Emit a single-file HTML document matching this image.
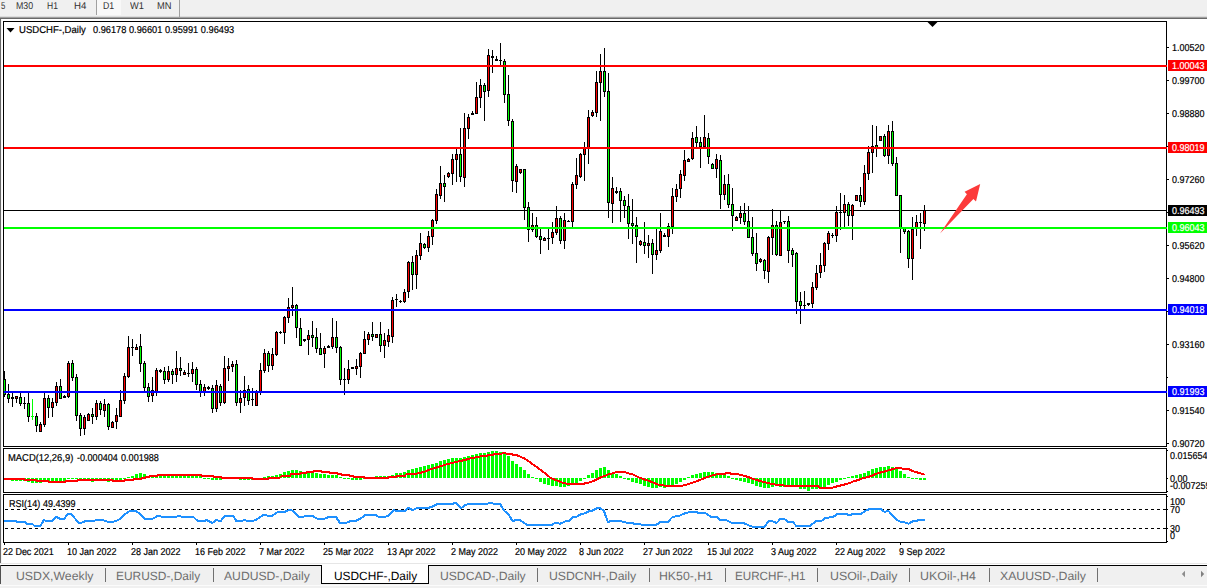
<!DOCTYPE html><html><head><meta charset="utf-8"><title>USDCHF-,Daily</title><style>
html,body{margin:0;padding:0;background:#fff}
body{width:1207px;height:588px;overflow:hidden;position:relative;font-family:"Liberation Sans",sans-serif}
#g{position:absolute;left:0;top:0}
.t{text-rendering:geometricPrecision;position:absolute;white-space:nowrap;line-height:1;transform-origin:0 0;color:#000}
.s{font-size:10px;-webkit-text-stroke-width:0.2px}
.tb{font-size:10px;color:#303030}
.tab{font-size:12px;color:#6e6e6e}
.lab{position:absolute;left:1168px;width:39px;height:11px}

</style></head><body>
<svg id="g" width="1207" height="588" viewBox="0 0 1207 588" shape-rendering="crispEdges">
<rect x="0" y="0" width="1207" height="17" fill="#f0f0f0"/>
<rect x="0" y="16" width="1207" height="1" fill="#dcdcdc"/>
<rect x="0" y="17" width="1207" height="1" fill="#a0a0a0"/>
<rect x="0" y="18" width="1207" height="1" fill="#696969"/>
<rect x="97" y="0" width="24" height="15" fill="#f8f8f8"/>
<rect x="96" y="0" width="1" height="15" fill="#a0a0a0"/>
<rect x="179" y="0" width="1" height="17" fill="#a0a0a0"/>
<rect x="0" y="19" width="1" height="544" fill="#696969"/>
<rect x="1" y="19" width="1" height="544" fill="#f4f4f4"/>
<rect x="3" y="21" width="1164" height="1" fill="#000"/>
<rect x="3" y="446" width="1164" height="1" fill="#000"/>
<rect x="3" y="21" width="1" height="426" fill="#000"/>
<rect x="1166" y="21" width="1" height="426" fill="#000"/>
<rect x="3" y="448" width="1164" height="1" fill="#000"/>
<rect x="3" y="492" width="1164" height="1" fill="#000"/>
<rect x="3" y="448" width="1" height="45" fill="#000"/>
<rect x="1166" y="448" width="1" height="45" fill="#000"/>
<rect x="3" y="494" width="1164" height="1" fill="#000"/>
<rect x="3" y="542" width="1164" height="1" fill="#000"/>
<rect x="3" y="494" width="1" height="49" fill="#000"/>
<rect x="1166" y="494" width="1" height="49" fill="#000"/>
<rect x="1167" y="47" width="2" height="1" fill="#000"/>
<rect x="1167" y="80" width="2" height="1" fill="#000"/>
<rect x="1167" y="113" width="2" height="1" fill="#000"/>
<rect x="1167" y="179" width="2" height="1" fill="#000"/>
<rect x="1167" y="245" width="2" height="1" fill="#000"/>
<rect x="1167" y="278" width="2" height="1" fill="#000"/>
<rect x="1167" y="344" width="2" height="1" fill="#000"/>
<rect x="1167" y="410" width="2" height="1" fill="#000"/>
<rect x="1167" y="443" width="2" height="1" fill="#000"/>
<rect x="1167" y="146" width="1" height="1" fill="#000"/>
<rect x="1167" y="212" width="1" height="1" fill="#000"/>
<rect x="1167" y="311" width="1" height="1" fill="#000"/>
<rect x="1167" y="377" width="1" height="1" fill="#000"/>
<rect x="1167" y="450" width="1" height="1" fill="#000"/>
<rect x="1167" y="478" width="1" height="1" fill="#000"/>
<rect x="1167" y="491" width="1" height="1" fill="#000"/>
<rect x="1167" y="496" width="1" height="1" fill="#000"/>
<rect x="1167" y="509" width="1" height="1" fill="#000"/>
<rect x="1167" y="528" width="1" height="1" fill="#000"/>
<rect x="1167" y="541" width="1" height="1" fill="#000"/>
<rect x="1168" y="60" width="39" height="11" fill="#ff0000"/>
<rect x="1168" y="142" width="39" height="11" fill="#ff0000"/>
<rect x="1168" y="205" width="39" height="11" fill="#000"/>
<rect x="1168" y="222" width="39" height="11" fill="#00ff00"/>
<rect x="1168" y="304" width="39" height="11" fill="#0000ff"/>
<rect x="1168" y="386" width="39" height="11" fill="#0000ff"/>
<rect x="4" y="210" width="1162" height="1" fill="#000"/>
<rect x="5" y="509" width="3" height="1" fill="#000"/>
<rect x="11" y="509" width="3" height="1" fill="#000"/>
<rect x="17" y="509" width="3" height="1" fill="#000"/>
<rect x="23" y="509" width="3" height="1" fill="#000"/>
<rect x="29" y="509" width="3" height="1" fill="#000"/>
<rect x="35" y="509" width="3" height="1" fill="#000"/>
<rect x="41" y="509" width="3" height="1" fill="#000"/>
<rect x="47" y="509" width="3" height="1" fill="#000"/>
<rect x="53" y="509" width="3" height="1" fill="#000"/>
<rect x="59" y="509" width="3" height="1" fill="#000"/>
<rect x="65" y="509" width="3" height="1" fill="#000"/>
<rect x="71" y="509" width="3" height="1" fill="#000"/>
<rect x="77" y="509" width="3" height="1" fill="#000"/>
<rect x="83" y="509" width="3" height="1" fill="#000"/>
<rect x="89" y="509" width="3" height="1" fill="#000"/>
<rect x="95" y="509" width="3" height="1" fill="#000"/>
<rect x="101" y="509" width="3" height="1" fill="#000"/>
<rect x="107" y="509" width="3" height="1" fill="#000"/>
<rect x="113" y="509" width="3" height="1" fill="#000"/>
<rect x="119" y="509" width="3" height="1" fill="#000"/>
<rect x="125" y="509" width="3" height="1" fill="#000"/>
<rect x="131" y="509" width="3" height="1" fill="#000"/>
<rect x="137" y="509" width="3" height="1" fill="#000"/>
<rect x="143" y="509" width="3" height="1" fill="#000"/>
<rect x="149" y="509" width="3" height="1" fill="#000"/>
<rect x="155" y="509" width="3" height="1" fill="#000"/>
<rect x="161" y="509" width="3" height="1" fill="#000"/>
<rect x="167" y="509" width="3" height="1" fill="#000"/>
<rect x="173" y="509" width="3" height="1" fill="#000"/>
<rect x="179" y="509" width="3" height="1" fill="#000"/>
<rect x="185" y="509" width="3" height="1" fill="#000"/>
<rect x="191" y="509" width="3" height="1" fill="#000"/>
<rect x="197" y="509" width="3" height="1" fill="#000"/>
<rect x="203" y="509" width="3" height="1" fill="#000"/>
<rect x="209" y="509" width="3" height="1" fill="#000"/>
<rect x="215" y="509" width="3" height="1" fill="#000"/>
<rect x="221" y="509" width="3" height="1" fill="#000"/>
<rect x="227" y="509" width="3" height="1" fill="#000"/>
<rect x="233" y="509" width="3" height="1" fill="#000"/>
<rect x="239" y="509" width="3" height="1" fill="#000"/>
<rect x="245" y="509" width="3" height="1" fill="#000"/>
<rect x="251" y="509" width="3" height="1" fill="#000"/>
<rect x="257" y="509" width="3" height="1" fill="#000"/>
<rect x="263" y="509" width="3" height="1" fill="#000"/>
<rect x="269" y="509" width="3" height="1" fill="#000"/>
<rect x="275" y="509" width="3" height="1" fill="#000"/>
<rect x="281" y="509" width="3" height="1" fill="#000"/>
<rect x="287" y="509" width="3" height="1" fill="#000"/>
<rect x="293" y="509" width="3" height="1" fill="#000"/>
<rect x="299" y="509" width="3" height="1" fill="#000"/>
<rect x="305" y="509" width="3" height="1" fill="#000"/>
<rect x="311" y="509" width="3" height="1" fill="#000"/>
<rect x="317" y="509" width="3" height="1" fill="#000"/>
<rect x="323" y="509" width="3" height="1" fill="#000"/>
<rect x="329" y="509" width="3" height="1" fill="#000"/>
<rect x="335" y="509" width="3" height="1" fill="#000"/>
<rect x="341" y="509" width="3" height="1" fill="#000"/>
<rect x="347" y="509" width="3" height="1" fill="#000"/>
<rect x="353" y="509" width="3" height="1" fill="#000"/>
<rect x="359" y="509" width="3" height="1" fill="#000"/>
<rect x="365" y="509" width="3" height="1" fill="#000"/>
<rect x="371" y="509" width="3" height="1" fill="#000"/>
<rect x="377" y="509" width="3" height="1" fill="#000"/>
<rect x="383" y="509" width="3" height="1" fill="#000"/>
<rect x="389" y="509" width="3" height="1" fill="#000"/>
<rect x="395" y="509" width="3" height="1" fill="#000"/>
<rect x="401" y="509" width="3" height="1" fill="#000"/>
<rect x="407" y="509" width="3" height="1" fill="#000"/>
<rect x="413" y="509" width="3" height="1" fill="#000"/>
<rect x="419" y="509" width="3" height="1" fill="#000"/>
<rect x="425" y="509" width="3" height="1" fill="#000"/>
<rect x="431" y="509" width="3" height="1" fill="#000"/>
<rect x="437" y="509" width="3" height="1" fill="#000"/>
<rect x="443" y="509" width="3" height="1" fill="#000"/>
<rect x="449" y="509" width="3" height="1" fill="#000"/>
<rect x="455" y="509" width="3" height="1" fill="#000"/>
<rect x="461" y="509" width="3" height="1" fill="#000"/>
<rect x="467" y="509" width="3" height="1" fill="#000"/>
<rect x="473" y="509" width="3" height="1" fill="#000"/>
<rect x="479" y="509" width="3" height="1" fill="#000"/>
<rect x="485" y="509" width="3" height="1" fill="#000"/>
<rect x="491" y="509" width="3" height="1" fill="#000"/>
<rect x="497" y="509" width="3" height="1" fill="#000"/>
<rect x="503" y="509" width="3" height="1" fill="#000"/>
<rect x="509" y="509" width="3" height="1" fill="#000"/>
<rect x="515" y="509" width="3" height="1" fill="#000"/>
<rect x="521" y="509" width="3" height="1" fill="#000"/>
<rect x="527" y="509" width="3" height="1" fill="#000"/>
<rect x="533" y="509" width="3" height="1" fill="#000"/>
<rect x="539" y="509" width="3" height="1" fill="#000"/>
<rect x="545" y="509" width="3" height="1" fill="#000"/>
<rect x="551" y="509" width="3" height="1" fill="#000"/>
<rect x="557" y="509" width="3" height="1" fill="#000"/>
<rect x="563" y="509" width="3" height="1" fill="#000"/>
<rect x="569" y="509" width="3" height="1" fill="#000"/>
<rect x="575" y="509" width="3" height="1" fill="#000"/>
<rect x="581" y="509" width="3" height="1" fill="#000"/>
<rect x="587" y="509" width="3" height="1" fill="#000"/>
<rect x="593" y="509" width="3" height="1" fill="#000"/>
<rect x="599" y="509" width="3" height="1" fill="#000"/>
<rect x="605" y="509" width="3" height="1" fill="#000"/>
<rect x="611" y="509" width="3" height="1" fill="#000"/>
<rect x="617" y="509" width="3" height="1" fill="#000"/>
<rect x="623" y="509" width="3" height="1" fill="#000"/>
<rect x="629" y="509" width="3" height="1" fill="#000"/>
<rect x="635" y="509" width="3" height="1" fill="#000"/>
<rect x="641" y="509" width="3" height="1" fill="#000"/>
<rect x="647" y="509" width="3" height="1" fill="#000"/>
<rect x="653" y="509" width="3" height="1" fill="#000"/>
<rect x="659" y="509" width="3" height="1" fill="#000"/>
<rect x="665" y="509" width="3" height="1" fill="#000"/>
<rect x="671" y="509" width="3" height="1" fill="#000"/>
<rect x="677" y="509" width="3" height="1" fill="#000"/>
<rect x="683" y="509" width="3" height="1" fill="#000"/>
<rect x="689" y="509" width="3" height="1" fill="#000"/>
<rect x="695" y="509" width="3" height="1" fill="#000"/>
<rect x="701" y="509" width="3" height="1" fill="#000"/>
<rect x="707" y="509" width="3" height="1" fill="#000"/>
<rect x="713" y="509" width="3" height="1" fill="#000"/>
<rect x="719" y="509" width="3" height="1" fill="#000"/>
<rect x="725" y="509" width="3" height="1" fill="#000"/>
<rect x="731" y="509" width="3" height="1" fill="#000"/>
<rect x="737" y="509" width="3" height="1" fill="#000"/>
<rect x="743" y="509" width="3" height="1" fill="#000"/>
<rect x="749" y="509" width="3" height="1" fill="#000"/>
<rect x="755" y="509" width="3" height="1" fill="#000"/>
<rect x="761" y="509" width="3" height="1" fill="#000"/>
<rect x="767" y="509" width="3" height="1" fill="#000"/>
<rect x="773" y="509" width="3" height="1" fill="#000"/>
<rect x="779" y="509" width="3" height="1" fill="#000"/>
<rect x="785" y="509" width="3" height="1" fill="#000"/>
<rect x="791" y="509" width="3" height="1" fill="#000"/>
<rect x="797" y="509" width="3" height="1" fill="#000"/>
<rect x="803" y="509" width="3" height="1" fill="#000"/>
<rect x="809" y="509" width="3" height="1" fill="#000"/>
<rect x="815" y="509" width="3" height="1" fill="#000"/>
<rect x="821" y="509" width="3" height="1" fill="#000"/>
<rect x="827" y="509" width="3" height="1" fill="#000"/>
<rect x="833" y="509" width="3" height="1" fill="#000"/>
<rect x="839" y="509" width="3" height="1" fill="#000"/>
<rect x="845" y="509" width="3" height="1" fill="#000"/>
<rect x="851" y="509" width="3" height="1" fill="#000"/>
<rect x="857" y="509" width="3" height="1" fill="#000"/>
<rect x="863" y="509" width="3" height="1" fill="#000"/>
<rect x="869" y="509" width="3" height="1" fill="#000"/>
<rect x="875" y="509" width="3" height="1" fill="#000"/>
<rect x="881" y="509" width="3" height="1" fill="#000"/>
<rect x="887" y="509" width="3" height="1" fill="#000"/>
<rect x="893" y="509" width="3" height="1" fill="#000"/>
<rect x="899" y="509" width="3" height="1" fill="#000"/>
<rect x="905" y="509" width="3" height="1" fill="#000"/>
<rect x="911" y="509" width="3" height="1" fill="#000"/>
<rect x="917" y="509" width="3" height="1" fill="#000"/>
<rect x="923" y="509" width="3" height="1" fill="#000"/>
<rect x="929" y="509" width="3" height="1" fill="#000"/>
<rect x="935" y="509" width="3" height="1" fill="#000"/>
<rect x="941" y="509" width="3" height="1" fill="#000"/>
<rect x="947" y="509" width="3" height="1" fill="#000"/>
<rect x="953" y="509" width="3" height="1" fill="#000"/>
<rect x="959" y="509" width="3" height="1" fill="#000"/>
<rect x="965" y="509" width="3" height="1" fill="#000"/>
<rect x="971" y="509" width="3" height="1" fill="#000"/>
<rect x="977" y="509" width="3" height="1" fill="#000"/>
<rect x="983" y="509" width="3" height="1" fill="#000"/>
<rect x="989" y="509" width="3" height="1" fill="#000"/>
<rect x="995" y="509" width="3" height="1" fill="#000"/>
<rect x="1001" y="509" width="3" height="1" fill="#000"/>
<rect x="1007" y="509" width="3" height="1" fill="#000"/>
<rect x="1013" y="509" width="3" height="1" fill="#000"/>
<rect x="1019" y="509" width="3" height="1" fill="#000"/>
<rect x="1025" y="509" width="3" height="1" fill="#000"/>
<rect x="1031" y="509" width="3" height="1" fill="#000"/>
<rect x="1037" y="509" width="3" height="1" fill="#000"/>
<rect x="1043" y="509" width="3" height="1" fill="#000"/>
<rect x="1049" y="509" width="3" height="1" fill="#000"/>
<rect x="1055" y="509" width="3" height="1" fill="#000"/>
<rect x="1061" y="509" width="3" height="1" fill="#000"/>
<rect x="1067" y="509" width="3" height="1" fill="#000"/>
<rect x="1073" y="509" width="3" height="1" fill="#000"/>
<rect x="1079" y="509" width="3" height="1" fill="#000"/>
<rect x="1085" y="509" width="3" height="1" fill="#000"/>
<rect x="1091" y="509" width="3" height="1" fill="#000"/>
<rect x="1097" y="509" width="3" height="1" fill="#000"/>
<rect x="1103" y="509" width="3" height="1" fill="#000"/>
<rect x="1109" y="509" width="3" height="1" fill="#000"/>
<rect x="1115" y="509" width="3" height="1" fill="#000"/>
<rect x="1121" y="509" width="3" height="1" fill="#000"/>
<rect x="1127" y="509" width="3" height="1" fill="#000"/>
<rect x="1133" y="509" width="3" height="1" fill="#000"/>
<rect x="1139" y="509" width="3" height="1" fill="#000"/>
<rect x="1145" y="509" width="3" height="1" fill="#000"/>
<rect x="1151" y="509" width="3" height="1" fill="#000"/>
<rect x="1157" y="509" width="3" height="1" fill="#000"/>
<rect x="1163" y="509" width="3" height="1" fill="#000"/>
<rect x="5" y="528" width="3" height="1" fill="#000"/>
<rect x="11" y="528" width="3" height="1" fill="#000"/>
<rect x="17" y="528" width="3" height="1" fill="#000"/>
<rect x="23" y="528" width="3" height="1" fill="#000"/>
<rect x="29" y="528" width="3" height="1" fill="#000"/>
<rect x="35" y="528" width="3" height="1" fill="#000"/>
<rect x="41" y="528" width="3" height="1" fill="#000"/>
<rect x="47" y="528" width="3" height="1" fill="#000"/>
<rect x="53" y="528" width="3" height="1" fill="#000"/>
<rect x="59" y="528" width="3" height="1" fill="#000"/>
<rect x="65" y="528" width="3" height="1" fill="#000"/>
<rect x="71" y="528" width="3" height="1" fill="#000"/>
<rect x="77" y="528" width="3" height="1" fill="#000"/>
<rect x="83" y="528" width="3" height="1" fill="#000"/>
<rect x="89" y="528" width="3" height="1" fill="#000"/>
<rect x="95" y="528" width="3" height="1" fill="#000"/>
<rect x="101" y="528" width="3" height="1" fill="#000"/>
<rect x="107" y="528" width="3" height="1" fill="#000"/>
<rect x="113" y="528" width="3" height="1" fill="#000"/>
<rect x="119" y="528" width="3" height="1" fill="#000"/>
<rect x="125" y="528" width="3" height="1" fill="#000"/>
<rect x="131" y="528" width="3" height="1" fill="#000"/>
<rect x="137" y="528" width="3" height="1" fill="#000"/>
<rect x="143" y="528" width="3" height="1" fill="#000"/>
<rect x="149" y="528" width="3" height="1" fill="#000"/>
<rect x="155" y="528" width="3" height="1" fill="#000"/>
<rect x="161" y="528" width="3" height="1" fill="#000"/>
<rect x="167" y="528" width="3" height="1" fill="#000"/>
<rect x="173" y="528" width="3" height="1" fill="#000"/>
<rect x="179" y="528" width="3" height="1" fill="#000"/>
<rect x="185" y="528" width="3" height="1" fill="#000"/>
<rect x="191" y="528" width="3" height="1" fill="#000"/>
<rect x="197" y="528" width="3" height="1" fill="#000"/>
<rect x="203" y="528" width="3" height="1" fill="#000"/>
<rect x="209" y="528" width="3" height="1" fill="#000"/>
<rect x="215" y="528" width="3" height="1" fill="#000"/>
<rect x="221" y="528" width="3" height="1" fill="#000"/>
<rect x="227" y="528" width="3" height="1" fill="#000"/>
<rect x="233" y="528" width="3" height="1" fill="#000"/>
<rect x="239" y="528" width="3" height="1" fill="#000"/>
<rect x="245" y="528" width="3" height="1" fill="#000"/>
<rect x="251" y="528" width="3" height="1" fill="#000"/>
<rect x="257" y="528" width="3" height="1" fill="#000"/>
<rect x="263" y="528" width="3" height="1" fill="#000"/>
<rect x="269" y="528" width="3" height="1" fill="#000"/>
<rect x="275" y="528" width="3" height="1" fill="#000"/>
<rect x="281" y="528" width="3" height="1" fill="#000"/>
<rect x="287" y="528" width="3" height="1" fill="#000"/>
<rect x="293" y="528" width="3" height="1" fill="#000"/>
<rect x="299" y="528" width="3" height="1" fill="#000"/>
<rect x="305" y="528" width="3" height="1" fill="#000"/>
<rect x="311" y="528" width="3" height="1" fill="#000"/>
<rect x="317" y="528" width="3" height="1" fill="#000"/>
<rect x="323" y="528" width="3" height="1" fill="#000"/>
<rect x="329" y="528" width="3" height="1" fill="#000"/>
<rect x="335" y="528" width="3" height="1" fill="#000"/>
<rect x="341" y="528" width="3" height="1" fill="#000"/>
<rect x="347" y="528" width="3" height="1" fill="#000"/>
<rect x="353" y="528" width="3" height="1" fill="#000"/>
<rect x="359" y="528" width="3" height="1" fill="#000"/>
<rect x="365" y="528" width="3" height="1" fill="#000"/>
<rect x="371" y="528" width="3" height="1" fill="#000"/>
<rect x="377" y="528" width="3" height="1" fill="#000"/>
<rect x="383" y="528" width="3" height="1" fill="#000"/>
<rect x="389" y="528" width="3" height="1" fill="#000"/>
<rect x="395" y="528" width="3" height="1" fill="#000"/>
<rect x="401" y="528" width="3" height="1" fill="#000"/>
<rect x="407" y="528" width="3" height="1" fill="#000"/>
<rect x="413" y="528" width="3" height="1" fill="#000"/>
<rect x="419" y="528" width="3" height="1" fill="#000"/>
<rect x="425" y="528" width="3" height="1" fill="#000"/>
<rect x="431" y="528" width="3" height="1" fill="#000"/>
<rect x="437" y="528" width="3" height="1" fill="#000"/>
<rect x="443" y="528" width="3" height="1" fill="#000"/>
<rect x="449" y="528" width="3" height="1" fill="#000"/>
<rect x="455" y="528" width="3" height="1" fill="#000"/>
<rect x="461" y="528" width="3" height="1" fill="#000"/>
<rect x="467" y="528" width="3" height="1" fill="#000"/>
<rect x="473" y="528" width="3" height="1" fill="#000"/>
<rect x="479" y="528" width="3" height="1" fill="#000"/>
<rect x="485" y="528" width="3" height="1" fill="#000"/>
<rect x="491" y="528" width="3" height="1" fill="#000"/>
<rect x="497" y="528" width="3" height="1" fill="#000"/>
<rect x="503" y="528" width="3" height="1" fill="#000"/>
<rect x="509" y="528" width="3" height="1" fill="#000"/>
<rect x="515" y="528" width="3" height="1" fill="#000"/>
<rect x="521" y="528" width="3" height="1" fill="#000"/>
<rect x="527" y="528" width="3" height="1" fill="#000"/>
<rect x="533" y="528" width="3" height="1" fill="#000"/>
<rect x="539" y="528" width="3" height="1" fill="#000"/>
<rect x="545" y="528" width="3" height="1" fill="#000"/>
<rect x="551" y="528" width="3" height="1" fill="#000"/>
<rect x="557" y="528" width="3" height="1" fill="#000"/>
<rect x="563" y="528" width="3" height="1" fill="#000"/>
<rect x="569" y="528" width="3" height="1" fill="#000"/>
<rect x="575" y="528" width="3" height="1" fill="#000"/>
<rect x="581" y="528" width="3" height="1" fill="#000"/>
<rect x="587" y="528" width="3" height="1" fill="#000"/>
<rect x="593" y="528" width="3" height="1" fill="#000"/>
<rect x="599" y="528" width="3" height="1" fill="#000"/>
<rect x="605" y="528" width="3" height="1" fill="#000"/>
<rect x="611" y="528" width="3" height="1" fill="#000"/>
<rect x="617" y="528" width="3" height="1" fill="#000"/>
<rect x="623" y="528" width="3" height="1" fill="#000"/>
<rect x="629" y="528" width="3" height="1" fill="#000"/>
<rect x="635" y="528" width="3" height="1" fill="#000"/>
<rect x="641" y="528" width="3" height="1" fill="#000"/>
<rect x="647" y="528" width="3" height="1" fill="#000"/>
<rect x="653" y="528" width="3" height="1" fill="#000"/>
<rect x="659" y="528" width="3" height="1" fill="#000"/>
<rect x="665" y="528" width="3" height="1" fill="#000"/>
<rect x="671" y="528" width="3" height="1" fill="#000"/>
<rect x="677" y="528" width="3" height="1" fill="#000"/>
<rect x="683" y="528" width="3" height="1" fill="#000"/>
<rect x="689" y="528" width="3" height="1" fill="#000"/>
<rect x="695" y="528" width="3" height="1" fill="#000"/>
<rect x="701" y="528" width="3" height="1" fill="#000"/>
<rect x="707" y="528" width="3" height="1" fill="#000"/>
<rect x="713" y="528" width="3" height="1" fill="#000"/>
<rect x="719" y="528" width="3" height="1" fill="#000"/>
<rect x="725" y="528" width="3" height="1" fill="#000"/>
<rect x="731" y="528" width="3" height="1" fill="#000"/>
<rect x="737" y="528" width="3" height="1" fill="#000"/>
<rect x="743" y="528" width="3" height="1" fill="#000"/>
<rect x="749" y="528" width="3" height="1" fill="#000"/>
<rect x="755" y="528" width="3" height="1" fill="#000"/>
<rect x="761" y="528" width="3" height="1" fill="#000"/>
<rect x="767" y="528" width="3" height="1" fill="#000"/>
<rect x="773" y="528" width="3" height="1" fill="#000"/>
<rect x="779" y="528" width="3" height="1" fill="#000"/>
<rect x="785" y="528" width="3" height="1" fill="#000"/>
<rect x="791" y="528" width="3" height="1" fill="#000"/>
<rect x="797" y="528" width="3" height="1" fill="#000"/>
<rect x="803" y="528" width="3" height="1" fill="#000"/>
<rect x="809" y="528" width="3" height="1" fill="#000"/>
<rect x="815" y="528" width="3" height="1" fill="#000"/>
<rect x="821" y="528" width="3" height="1" fill="#000"/>
<rect x="827" y="528" width="3" height="1" fill="#000"/>
<rect x="833" y="528" width="3" height="1" fill="#000"/>
<rect x="839" y="528" width="3" height="1" fill="#000"/>
<rect x="845" y="528" width="3" height="1" fill="#000"/>
<rect x="851" y="528" width="3" height="1" fill="#000"/>
<rect x="857" y="528" width="3" height="1" fill="#000"/>
<rect x="863" y="528" width="3" height="1" fill="#000"/>
<rect x="869" y="528" width="3" height="1" fill="#000"/>
<rect x="875" y="528" width="3" height="1" fill="#000"/>
<rect x="881" y="528" width="3" height="1" fill="#000"/>
<rect x="887" y="528" width="3" height="1" fill="#000"/>
<rect x="893" y="528" width="3" height="1" fill="#000"/>
<rect x="899" y="528" width="3" height="1" fill="#000"/>
<rect x="905" y="528" width="3" height="1" fill="#000"/>
<rect x="911" y="528" width="3" height="1" fill="#000"/>
<rect x="917" y="528" width="3" height="1" fill="#000"/>
<rect x="923" y="528" width="3" height="1" fill="#000"/>
<rect x="929" y="528" width="3" height="1" fill="#000"/>
<rect x="935" y="528" width="3" height="1" fill="#000"/>
<rect x="941" y="528" width="3" height="1" fill="#000"/>
<rect x="947" y="528" width="3" height="1" fill="#000"/>
<rect x="953" y="528" width="3" height="1" fill="#000"/>
<rect x="959" y="528" width="3" height="1" fill="#000"/>
<rect x="965" y="528" width="3" height="1" fill="#000"/>
<rect x="971" y="528" width="3" height="1" fill="#000"/>
<rect x="977" y="528" width="3" height="1" fill="#000"/>
<rect x="983" y="528" width="3" height="1" fill="#000"/>
<rect x="989" y="528" width="3" height="1" fill="#000"/>
<rect x="995" y="528" width="3" height="1" fill="#000"/>
<rect x="1001" y="528" width="3" height="1" fill="#000"/>
<rect x="1007" y="528" width="3" height="1" fill="#000"/>
<rect x="1013" y="528" width="3" height="1" fill="#000"/>
<rect x="1019" y="528" width="3" height="1" fill="#000"/>
<rect x="1025" y="528" width="3" height="1" fill="#000"/>
<rect x="1031" y="528" width="3" height="1" fill="#000"/>
<rect x="1037" y="528" width="3" height="1" fill="#000"/>
<rect x="1043" y="528" width="3" height="1" fill="#000"/>
<rect x="1049" y="528" width="3" height="1" fill="#000"/>
<rect x="1055" y="528" width="3" height="1" fill="#000"/>
<rect x="1061" y="528" width="3" height="1" fill="#000"/>
<rect x="1067" y="528" width="3" height="1" fill="#000"/>
<rect x="1073" y="528" width="3" height="1" fill="#000"/>
<rect x="1079" y="528" width="3" height="1" fill="#000"/>
<rect x="1085" y="528" width="3" height="1" fill="#000"/>
<rect x="1091" y="528" width="3" height="1" fill="#000"/>
<rect x="1097" y="528" width="3" height="1" fill="#000"/>
<rect x="1103" y="528" width="3" height="1" fill="#000"/>
<rect x="1109" y="528" width="3" height="1" fill="#000"/>
<rect x="1115" y="528" width="3" height="1" fill="#000"/>
<rect x="1121" y="528" width="3" height="1" fill="#000"/>
<rect x="1127" y="528" width="3" height="1" fill="#000"/>
<rect x="1133" y="528" width="3" height="1" fill="#000"/>
<rect x="1139" y="528" width="3" height="1" fill="#000"/>
<rect x="1145" y="528" width="3" height="1" fill="#000"/>
<rect x="1151" y="528" width="3" height="1" fill="#000"/>
<rect x="1157" y="528" width="3" height="1" fill="#000"/>
<rect x="1163" y="528" width="3" height="1" fill="#000"/>
<rect x="4" y="543" width="1" height="2" fill="#000"/>
<rect x="68" y="543" width="1" height="2" fill="#000"/>
<rect x="132" y="543" width="1" height="2" fill="#000"/>
<rect x="196" y="543" width="1" height="2" fill="#000"/>
<rect x="260" y="543" width="1" height="2" fill="#000"/>
<rect x="324" y="543" width="1" height="2" fill="#000"/>
<rect x="388" y="543" width="1" height="2" fill="#000"/>
<rect x="452" y="543" width="1" height="2" fill="#000"/>
<rect x="516" y="543" width="1" height="2" fill="#000"/>
<rect x="580" y="543" width="1" height="2" fill="#000"/>
<rect x="644" y="543" width="1" height="2" fill="#000"/>
<rect x="708" y="543" width="1" height="2" fill="#000"/>
<rect x="772" y="543" width="1" height="2" fill="#000"/>
<rect x="836" y="543" width="1" height="2" fill="#000"/>
<rect x="900" y="543" width="1" height="2" fill="#000"/>
<rect x="0" y="563" width="1207" height="1" fill="#e6e6e6"/>
<rect x="0" y="564" width="1207" height="1" fill="#fff"/>
<rect x="0" y="565" width="1207" height="1" fill="#000"/>
<rect x="0" y="566" width="1207" height="19" fill="#f0f0f0"/>
<rect x="0" y="585" width="1207" height="1" fill="#fbfbfb"/>
<rect x="0" y="586" width="1207" height="2" fill="#f0f0f0"/>
<rect x="0" y="565" width="1" height="19" fill="#505050"/>
<rect x="322" y="564" width="106" height="19" fill="#fff"/>
<rect x="321" y="565" width="1" height="19" fill="#000"/>
<rect x="428" y="565" width="1" height="19" fill="#000"/>
<rect x="321" y="583" width="108" height="1" fill="#000"/>
<rect x="105" y="568" width="1" height="14" fill="#707070"/>
<rect x="213" y="568" width="1" height="14" fill="#707070"/>
<rect x="537" y="568" width="1" height="14" fill="#707070"/>
<rect x="649" y="568" width="1" height="14" fill="#707070"/>
<rect x="725" y="568" width="1" height="14" fill="#707070"/>
<rect x="817" y="568" width="1" height="14" fill="#707070"/>
<rect x="909" y="568" width="1" height="14" fill="#707070"/>
<rect x="989" y="568" width="1" height="14" fill="#707070"/>
<rect x="1097" y="568" width="1" height="14" fill="#707070"/>
<rect x="4" y="371" width="1" height="26" fill="#000"/>
<rect x="3" y="379" width="3" height="16" fill="#000"/>
<rect x="4" y="380" width="1" height="14" fill="#00ff00"/>
<rect x="8" y="384" width="1" height="19" fill="#000"/>
<rect x="7" y="394" width="3" height="5" fill="#000"/>
<rect x="8" y="395" width="1" height="3" fill="#00ff00"/>
<rect x="12" y="393" width="1" height="14" fill="#000"/>
<rect x="11" y="397" width="3" height="2" fill="#000"/>
<rect x="16" y="396" width="1" height="7" fill="#000"/>
<rect x="15" y="396" width="3" height="3" fill="#000"/>
<rect x="16" y="397" width="1" height="1" fill="#ff0000"/>
<rect x="20" y="393" width="1" height="13" fill="#000"/>
<rect x="19" y="397" width="3" height="7" fill="#000"/>
<rect x="20" y="398" width="1" height="5" fill="#00ff00"/>
<rect x="24" y="397" width="1" height="12" fill="#000"/>
<rect x="23" y="403" width="3" height="1" fill="#000"/>
<rect x="28" y="393" width="1" height="29" fill="#000"/>
<rect x="27" y="403" width="3" height="14" fill="#000"/>
<rect x="28" y="404" width="1" height="12" fill="#00ff00"/>
<rect x="32" y="399" width="1" height="21" fill="#00ff00"/>
<rect x="31" y="416" width="3" height="1" fill="#00ff00"/>
<rect x="36" y="413" width="1" height="19" fill="#000"/>
<rect x="35" y="416" width="3" height="10" fill="#000"/>
<rect x="36" y="417" width="1" height="8" fill="#00ff00"/>
<rect x="40" y="422" width="1" height="10" fill="#000"/>
<rect x="39" y="424" width="3" height="8" fill="#000"/>
<rect x="40" y="425" width="1" height="6" fill="#ff0000"/>
<rect x="44" y="393" width="1" height="34" fill="#000"/>
<rect x="43" y="398" width="3" height="27" fill="#000"/>
<rect x="44" y="399" width="1" height="25" fill="#ff0000"/>
<rect x="48" y="395" width="1" height="23" fill="#000"/>
<rect x="47" y="398" width="3" height="10" fill="#000"/>
<rect x="48" y="399" width="1" height="8" fill="#00ff00"/>
<rect x="52" y="398" width="1" height="19" fill="#000"/>
<rect x="51" y="402" width="3" height="6" fill="#000"/>
<rect x="52" y="403" width="1" height="4" fill="#ff0000"/>
<rect x="56" y="382" width="1" height="24" fill="#000"/>
<rect x="55" y="386" width="3" height="17" fill="#000"/>
<rect x="56" y="387" width="1" height="15" fill="#ff0000"/>
<rect x="60" y="379" width="1" height="20" fill="#000"/>
<rect x="59" y="386" width="3" height="13" fill="#000"/>
<rect x="60" y="387" width="1" height="11" fill="#00ff00"/>
<rect x="64" y="395" width="1" height="3" fill="#000"/>
<rect x="63" y="396" width="3" height="2" fill="#000"/>
<rect x="68" y="361" width="1" height="37" fill="#000"/>
<rect x="67" y="363" width="3" height="34" fill="#000"/>
<rect x="68" y="364" width="1" height="32" fill="#ff0000"/>
<rect x="72" y="360" width="1" height="21" fill="#000"/>
<rect x="71" y="363" width="3" height="15" fill="#000"/>
<rect x="72" y="364" width="1" height="13" fill="#00ff00"/>
<rect x="76" y="374" width="1" height="47" fill="#000"/>
<rect x="75" y="377" width="3" height="39" fill="#000"/>
<rect x="76" y="378" width="1" height="37" fill="#00ff00"/>
<rect x="80" y="413" width="1" height="23" fill="#000"/>
<rect x="79" y="415" width="3" height="14" fill="#000"/>
<rect x="80" y="416" width="1" height="12" fill="#00ff00"/>
<rect x="84" y="415" width="1" height="20" fill="#000"/>
<rect x="83" y="417" width="3" height="12" fill="#000"/>
<rect x="84" y="418" width="1" height="10" fill="#ff0000"/>
<rect x="88" y="413" width="1" height="8" fill="#000"/>
<rect x="87" y="414" width="3" height="7" fill="#000"/>
<rect x="88" y="415" width="1" height="5" fill="#ff0000"/>
<rect x="92" y="408" width="1" height="16" fill="#000"/>
<rect x="91" y="414" width="3" height="3" fill="#000"/>
<rect x="92" y="415" width="1" height="1" fill="#00ff00"/>
<rect x="96" y="400" width="1" height="20" fill="#000"/>
<rect x="95" y="403" width="3" height="14" fill="#000"/>
<rect x="96" y="404" width="1" height="12" fill="#ff0000"/>
<rect x="100" y="401" width="1" height="14" fill="#000"/>
<rect x="99" y="403" width="3" height="7" fill="#000"/>
<rect x="100" y="404" width="1" height="5" fill="#00ff00"/>
<rect x="104" y="399" width="1" height="18" fill="#000"/>
<rect x="103" y="404" width="3" height="7" fill="#000"/>
<rect x="104" y="405" width="1" height="5" fill="#ff0000"/>
<rect x="108" y="403" width="1" height="27" fill="#000"/>
<rect x="107" y="404" width="3" height="23" fill="#000"/>
<rect x="108" y="405" width="1" height="21" fill="#00ff00"/>
<rect x="112" y="421" width="1" height="7" fill="#000"/>
<rect x="111" y="422" width="3" height="6" fill="#000"/>
<rect x="112" y="423" width="1" height="4" fill="#ff0000"/>
<rect x="116" y="408" width="1" height="21" fill="#000"/>
<rect x="115" y="415" width="3" height="7" fill="#000"/>
<rect x="116" y="416" width="1" height="5" fill="#ff0000"/>
<rect x="120" y="390" width="1" height="27" fill="#000"/>
<rect x="119" y="400" width="3" height="17" fill="#000"/>
<rect x="120" y="401" width="1" height="15" fill="#ff0000"/>
<rect x="124" y="373" width="1" height="31" fill="#000"/>
<rect x="123" y="376" width="3" height="25" fill="#000"/>
<rect x="124" y="377" width="1" height="23" fill="#ff0000"/>
<rect x="128" y="336" width="1" height="42" fill="#000"/>
<rect x="127" y="347" width="3" height="30" fill="#000"/>
<rect x="128" y="348" width="1" height="28" fill="#ff0000"/>
<rect x="132" y="339" width="1" height="17" fill="#000"/>
<rect x="131" y="347" width="3" height="1" fill="#000"/>
<rect x="136" y="344" width="1" height="6" fill="#000"/>
<rect x="135" y="347" width="3" height="3" fill="#000"/>
<rect x="136" y="348" width="1" height="1" fill="#ff0000"/>
<rect x="140" y="334" width="1" height="38" fill="#000"/>
<rect x="139" y="346" width="3" height="18" fill="#000"/>
<rect x="140" y="347" width="1" height="16" fill="#00ff00"/>
<rect x="144" y="361" width="1" height="30" fill="#000"/>
<rect x="143" y="363" width="3" height="25" fill="#000"/>
<rect x="144" y="364" width="1" height="23" fill="#00ff00"/>
<rect x="148" y="383" width="1" height="19" fill="#000"/>
<rect x="147" y="387" width="3" height="10" fill="#000"/>
<rect x="148" y="388" width="1" height="8" fill="#00ff00"/>
<rect x="152" y="377" width="1" height="25" fill="#000"/>
<rect x="151" y="390" width="3" height="6" fill="#000"/>
<rect x="152" y="391" width="1" height="4" fill="#ff0000"/>
<rect x="156" y="368" width="1" height="28" fill="#000"/>
<rect x="155" y="370" width="3" height="23" fill="#000"/>
<rect x="156" y="371" width="1" height="21" fill="#ff0000"/>
<rect x="160" y="369" width="1" height="4" fill="#000"/>
<rect x="159" y="370" width="3" height="2" fill="#000"/>
<rect x="164" y="367" width="1" height="17" fill="#000"/>
<rect x="163" y="371" width="3" height="9" fill="#000"/>
<rect x="164" y="372" width="1" height="7" fill="#00ff00"/>
<rect x="168" y="366" width="1" height="16" fill="#000"/>
<rect x="167" y="371" width="3" height="9" fill="#000"/>
<rect x="168" y="372" width="1" height="7" fill="#ff0000"/>
<rect x="172" y="369" width="1" height="15" fill="#000"/>
<rect x="171" y="371" width="3" height="4" fill="#000"/>
<rect x="172" y="372" width="1" height="2" fill="#00ff00"/>
<rect x="176" y="351" width="1" height="31" fill="#000"/>
<rect x="175" y="368" width="3" height="7" fill="#000"/>
<rect x="176" y="369" width="1" height="5" fill="#ff0000"/>
<rect x="180" y="357" width="1" height="19" fill="#000"/>
<rect x="179" y="368" width="3" height="3" fill="#000"/>
<rect x="180" y="369" width="1" height="1" fill="#00ff00"/>
<rect x="184" y="370" width="1" height="5" fill="#000"/>
<rect x="183" y="372" width="3" height="3" fill="#000"/>
<rect x="184" y="373" width="1" height="1" fill="#ff0000"/>
<rect x="188" y="363" width="1" height="14" fill="#000"/>
<rect x="187" y="373" width="3" height="1" fill="#000"/>
<rect x="192" y="362" width="1" height="20" fill="#000"/>
<rect x="191" y="369" width="3" height="5" fill="#000"/>
<rect x="192" y="370" width="1" height="3" fill="#ff0000"/>
<rect x="196" y="367" width="1" height="23" fill="#000"/>
<rect x="195" y="369" width="3" height="16" fill="#000"/>
<rect x="196" y="370" width="1" height="14" fill="#00ff00"/>
<rect x="200" y="380" width="1" height="17" fill="#000"/>
<rect x="199" y="384" width="3" height="9" fill="#000"/>
<rect x="200" y="385" width="1" height="7" fill="#00ff00"/>
<rect x="204" y="384" width="1" height="12" fill="#000"/>
<rect x="203" y="387" width="3" height="6" fill="#000"/>
<rect x="204" y="388" width="1" height="4" fill="#ff0000"/>
<rect x="208" y="386" width="1" height="4" fill="#000"/>
<rect x="207" y="387" width="3" height="2" fill="#000"/>
<rect x="212" y="385" width="1" height="28" fill="#000"/>
<rect x="211" y="388" width="3" height="21" fill="#000"/>
<rect x="212" y="389" width="1" height="19" fill="#00ff00"/>
<rect x="216" y="380" width="1" height="32" fill="#000"/>
<rect x="215" y="385" width="3" height="24" fill="#000"/>
<rect x="216" y="386" width="1" height="22" fill="#ff0000"/>
<rect x="220" y="384" width="1" height="22" fill="#000"/>
<rect x="219" y="386" width="3" height="17" fill="#000"/>
<rect x="220" y="387" width="1" height="15" fill="#00ff00"/>
<rect x="224" y="356" width="1" height="48" fill="#000"/>
<rect x="223" y="368" width="3" height="35" fill="#000"/>
<rect x="224" y="369" width="1" height="33" fill="#ff0000"/>
<rect x="228" y="358" width="1" height="23" fill="#000"/>
<rect x="227" y="366" width="3" height="3" fill="#000"/>
<rect x="228" y="367" width="1" height="1" fill="#ff0000"/>
<rect x="232" y="361" width="1" height="11" fill="#000"/>
<rect x="231" y="364" width="3" height="3" fill="#000"/>
<rect x="232" y="365" width="1" height="1" fill="#ff0000"/>
<rect x="236" y="360" width="1" height="46" fill="#000"/>
<rect x="235" y="364" width="3" height="39" fill="#000"/>
<rect x="236" y="365" width="1" height="37" fill="#00ff00"/>
<rect x="240" y="390" width="1" height="23" fill="#000"/>
<rect x="239" y="398" width="3" height="5" fill="#000"/>
<rect x="240" y="399" width="1" height="3" fill="#ff0000"/>
<rect x="244" y="376" width="1" height="30" fill="#000"/>
<rect x="243" y="390" width="3" height="8" fill="#000"/>
<rect x="244" y="391" width="1" height="6" fill="#ff0000"/>
<rect x="248" y="385" width="1" height="20" fill="#000"/>
<rect x="247" y="389" width="3" height="12" fill="#000"/>
<rect x="248" y="390" width="1" height="10" fill="#00ff00"/>
<rect x="252" y="388" width="1" height="18" fill="#000"/>
<rect x="251" y="399" width="3" height="1" fill="#000"/>
<rect x="256" y="390" width="1" height="16" fill="#000"/>
<rect x="255" y="392" width="3" height="14" fill="#000"/>
<rect x="256" y="393" width="1" height="12" fill="#ff0000"/>
<rect x="260" y="363" width="1" height="32" fill="#000"/>
<rect x="259" y="370" width="3" height="23" fill="#000"/>
<rect x="260" y="371" width="1" height="21" fill="#ff0000"/>
<rect x="264" y="349" width="1" height="24" fill="#000"/>
<rect x="263" y="353" width="3" height="18" fill="#000"/>
<rect x="264" y="354" width="1" height="16" fill="#ff0000"/>
<rect x="268" y="351" width="1" height="21" fill="#000"/>
<rect x="267" y="353" width="3" height="13" fill="#000"/>
<rect x="268" y="354" width="1" height="11" fill="#00ff00"/>
<rect x="272" y="348" width="1" height="22" fill="#000"/>
<rect x="271" y="354" width="3" height="12" fill="#000"/>
<rect x="272" y="355" width="1" height="10" fill="#ff0000"/>
<rect x="276" y="331" width="1" height="25" fill="#000"/>
<rect x="275" y="332" width="3" height="23" fill="#000"/>
<rect x="276" y="333" width="1" height="21" fill="#ff0000"/>
<rect x="280" y="331" width="1" height="3" fill="#000"/>
<rect x="279" y="332" width="3" height="1" fill="#000"/>
<rect x="284" y="316" width="1" height="28" fill="#000"/>
<rect x="283" y="317" width="3" height="16" fill="#000"/>
<rect x="284" y="318" width="1" height="14" fill="#ff0000"/>
<rect x="288" y="298" width="1" height="25" fill="#000"/>
<rect x="287" y="307" width="3" height="11" fill="#000"/>
<rect x="288" y="308" width="1" height="9" fill="#ff0000"/>
<rect x="292" y="287" width="1" height="29" fill="#000"/>
<rect x="291" y="305" width="3" height="3" fill="#000"/>
<rect x="292" y="306" width="1" height="1" fill="#ff0000"/>
<rect x="296" y="304" width="1" height="34" fill="#000"/>
<rect x="295" y="305" width="3" height="23" fill="#000"/>
<rect x="296" y="306" width="1" height="21" fill="#00ff00"/>
<rect x="300" y="318" width="1" height="28" fill="#000"/>
<rect x="299" y="328" width="3" height="18" fill="#000"/>
<rect x="300" y="329" width="1" height="16" fill="#00ff00"/>
<rect x="304" y="339" width="1" height="3" fill="#000"/>
<rect x="303" y="339" width="3" height="2" fill="#000"/>
<rect x="308" y="330" width="1" height="25" fill="#000"/>
<rect x="307" y="335" width="3" height="5" fill="#000"/>
<rect x="308" y="336" width="1" height="3" fill="#ff0000"/>
<rect x="312" y="321" width="1" height="26" fill="#000"/>
<rect x="311" y="335" width="3" height="3" fill="#000"/>
<rect x="312" y="336" width="1" height="1" fill="#00ff00"/>
<rect x="316" y="328" width="1" height="25" fill="#000"/>
<rect x="315" y="337" width="3" height="12" fill="#000"/>
<rect x="316" y="338" width="1" height="10" fill="#00ff00"/>
<rect x="320" y="333" width="1" height="22" fill="#000"/>
<rect x="319" y="348" width="3" height="7" fill="#000"/>
<rect x="320" y="349" width="1" height="5" fill="#00ff00"/>
<rect x="324" y="346" width="1" height="22" fill="#000"/>
<rect x="323" y="348" width="3" height="6" fill="#000"/>
<rect x="324" y="349" width="1" height="4" fill="#ff0000"/>
<rect x="328" y="345" width="1" height="3" fill="#000"/>
<rect x="327" y="346" width="3" height="2" fill="#000"/>
<rect x="332" y="318" width="1" height="31" fill="#000"/>
<rect x="331" y="337" width="3" height="10" fill="#000"/>
<rect x="332" y="338" width="1" height="8" fill="#ff0000"/>
<rect x="336" y="321" width="1" height="32" fill="#000"/>
<rect x="335" y="337" width="3" height="11" fill="#000"/>
<rect x="336" y="338" width="1" height="9" fill="#00ff00"/>
<rect x="340" y="346" width="1" height="39" fill="#000"/>
<rect x="339" y="347" width="3" height="33" fill="#000"/>
<rect x="340" y="348" width="1" height="31" fill="#00ff00"/>
<rect x="344" y="368" width="1" height="27" fill="#000"/>
<rect x="343" y="379" width="3" height="1" fill="#000"/>
<rect x="348" y="360" width="1" height="24" fill="#000"/>
<rect x="347" y="369" width="3" height="11" fill="#000"/>
<rect x="348" y="370" width="1" height="9" fill="#ff0000"/>
<rect x="352" y="367" width="1" height="2" fill="#000"/>
<rect x="351" y="367" width="3" height="2" fill="#000"/>
<rect x="356" y="359" width="1" height="16" fill="#000"/>
<rect x="355" y="366" width="3" height="3" fill="#000"/>
<rect x="356" y="367" width="1" height="1" fill="#ff0000"/>
<rect x="360" y="352" width="1" height="26" fill="#000"/>
<rect x="359" y="353" width="3" height="14" fill="#000"/>
<rect x="360" y="354" width="1" height="12" fill="#ff0000"/>
<rect x="364" y="331" width="1" height="23" fill="#000"/>
<rect x="363" y="339" width="3" height="15" fill="#000"/>
<rect x="364" y="340" width="1" height="13" fill="#ff0000"/>
<rect x="368" y="332" width="1" height="13" fill="#000"/>
<rect x="367" y="334" width="3" height="6" fill="#000"/>
<rect x="368" y="335" width="1" height="4" fill="#ff0000"/>
<rect x="372" y="322" width="1" height="19" fill="#000"/>
<rect x="371" y="334" width="3" height="3" fill="#000"/>
<rect x="372" y="335" width="1" height="1" fill="#00ff00"/>
<rect x="376" y="334" width="1" height="4" fill="#000"/>
<rect x="375" y="334" width="3" height="4" fill="#000"/>
<rect x="376" y="335" width="1" height="2" fill="#ff0000"/>
<rect x="380" y="322" width="1" height="30" fill="#000"/>
<rect x="379" y="334" width="3" height="12" fill="#000"/>
<rect x="380" y="335" width="1" height="10" fill="#00ff00"/>
<rect x="384" y="333" width="1" height="25" fill="#000"/>
<rect x="383" y="340" width="3" height="6" fill="#000"/>
<rect x="384" y="341" width="1" height="4" fill="#ff0000"/>
<rect x="388" y="329" width="1" height="18" fill="#000"/>
<rect x="387" y="335" width="3" height="7" fill="#000"/>
<rect x="388" y="336" width="1" height="5" fill="#ff0000"/>
<rect x="392" y="297" width="1" height="46" fill="#000"/>
<rect x="391" y="300" width="3" height="37" fill="#000"/>
<rect x="392" y="301" width="1" height="35" fill="#ff0000"/>
<rect x="396" y="294" width="1" height="13" fill="#000"/>
<rect x="395" y="299" width="3" height="1" fill="#000"/>
<rect x="400" y="300" width="1" height="3" fill="#000"/>
<rect x="399" y="301" width="3" height="1" fill="#000"/>
<rect x="404" y="289" width="1" height="14" fill="#000"/>
<rect x="403" y="292" width="3" height="10" fill="#000"/>
<rect x="404" y="293" width="1" height="8" fill="#ff0000"/>
<rect x="408" y="261" width="1" height="37" fill="#000"/>
<rect x="407" y="262" width="3" height="30" fill="#000"/>
<rect x="408" y="263" width="1" height="28" fill="#ff0000"/>
<rect x="412" y="256" width="1" height="34" fill="#000"/>
<rect x="411" y="262" width="3" height="13" fill="#000"/>
<rect x="412" y="263" width="1" height="11" fill="#00ff00"/>
<rect x="416" y="250" width="1" height="39" fill="#000"/>
<rect x="415" y="255" width="3" height="20" fill="#000"/>
<rect x="416" y="256" width="1" height="18" fill="#ff0000"/>
<rect x="420" y="233" width="1" height="27" fill="#000"/>
<rect x="419" y="243" width="3" height="13" fill="#000"/>
<rect x="420" y="244" width="1" height="11" fill="#ff0000"/>
<rect x="424" y="243" width="1" height="6" fill="#000"/>
<rect x="423" y="244" width="3" height="4" fill="#000"/>
<rect x="424" y="245" width="1" height="2" fill="#00ff00"/>
<rect x="428" y="231" width="1" height="21" fill="#000"/>
<rect x="427" y="236" width="3" height="12" fill="#000"/>
<rect x="428" y="237" width="1" height="10" fill="#ff0000"/>
<rect x="432" y="219" width="1" height="26" fill="#000"/>
<rect x="431" y="220" width="3" height="17" fill="#000"/>
<rect x="432" y="221" width="1" height="15" fill="#ff0000"/>
<rect x="436" y="189" width="1" height="35" fill="#000"/>
<rect x="435" y="194" width="3" height="27" fill="#000"/>
<rect x="436" y="195" width="1" height="25" fill="#ff0000"/>
<rect x="440" y="166" width="1" height="33" fill="#000"/>
<rect x="439" y="183" width="3" height="13" fill="#000"/>
<rect x="440" y="184" width="1" height="11" fill="#ff0000"/>
<rect x="444" y="175" width="1" height="27" fill="#000"/>
<rect x="443" y="183" width="3" height="4" fill="#000"/>
<rect x="444" y="184" width="1" height="2" fill="#00ff00"/>
<rect x="448" y="172" width="1" height="6" fill="#000"/>
<rect x="447" y="173" width="3" height="4" fill="#000"/>
<rect x="448" y="174" width="1" height="2" fill="#ff0000"/>
<rect x="452" y="154" width="1" height="31" fill="#000"/>
<rect x="451" y="159" width="3" height="15" fill="#000"/>
<rect x="452" y="160" width="1" height="13" fill="#ff0000"/>
<rect x="456" y="149" width="1" height="33" fill="#000"/>
<rect x="455" y="154" width="3" height="6" fill="#000"/>
<rect x="456" y="155" width="1" height="4" fill="#ff0000"/>
<rect x="460" y="128" width="1" height="54" fill="#000"/>
<rect x="459" y="154" width="3" height="23" fill="#000"/>
<rect x="460" y="155" width="1" height="21" fill="#00ff00"/>
<rect x="464" y="113" width="1" height="74" fill="#000"/>
<rect x="463" y="128" width="3" height="50" fill="#000"/>
<rect x="464" y="129" width="1" height="48" fill="#ff0000"/>
<rect x="468" y="114" width="1" height="25" fill="#000"/>
<rect x="467" y="117" width="3" height="12" fill="#000"/>
<rect x="468" y="118" width="1" height="10" fill="#ff0000"/>
<rect x="472" y="111" width="1" height="4" fill="#000"/>
<rect x="471" y="113" width="3" height="2" fill="#000"/>
<rect x="476" y="82" width="1" height="32" fill="#000"/>
<rect x="475" y="97" width="3" height="17" fill="#000"/>
<rect x="476" y="98" width="1" height="15" fill="#ff0000"/>
<rect x="480" y="79" width="1" height="29" fill="#000"/>
<rect x="479" y="85" width="3" height="13" fill="#000"/>
<rect x="480" y="86" width="1" height="11" fill="#ff0000"/>
<rect x="484" y="83" width="1" height="38" fill="#000"/>
<rect x="483" y="85" width="3" height="7" fill="#000"/>
<rect x="484" y="86" width="1" height="5" fill="#00ff00"/>
<rect x="488" y="49" width="1" height="48" fill="#000"/>
<rect x="487" y="55" width="3" height="36" fill="#000"/>
<rect x="488" y="56" width="1" height="34" fill="#ff0000"/>
<rect x="492" y="50" width="1" height="23" fill="#000"/>
<rect x="491" y="56" width="3" height="2" fill="#000"/>
<rect x="496" y="56" width="1" height="5" fill="#000"/>
<rect x="495" y="59" width="3" height="2" fill="#000"/>
<rect x="500" y="43" width="1" height="22" fill="#000"/>
<rect x="499" y="60" width="3" height="1" fill="#000"/>
<rect x="504" y="59" width="1" height="44" fill="#000"/>
<rect x="503" y="61" width="3" height="34" fill="#000"/>
<rect x="504" y="62" width="1" height="32" fill="#00ff00"/>
<rect x="508" y="75" width="1" height="51" fill="#000"/>
<rect x="507" y="94" width="3" height="27" fill="#000"/>
<rect x="508" y="95" width="1" height="25" fill="#00ff00"/>
<rect x="512" y="119" width="1" height="73" fill="#000"/>
<rect x="511" y="121" width="3" height="60" fill="#000"/>
<rect x="512" y="122" width="1" height="58" fill="#00ff00"/>
<rect x="516" y="164" width="1" height="29" fill="#000"/>
<rect x="515" y="166" width="3" height="16" fill="#000"/>
<rect x="516" y="167" width="1" height="14" fill="#ff0000"/>
<rect x="520" y="169" width="1" height="5" fill="#000"/>
<rect x="519" y="169" width="3" height="4" fill="#000"/>
<rect x="520" y="170" width="1" height="2" fill="#ff0000"/>
<rect x="524" y="169" width="1" height="51" fill="#000"/>
<rect x="523" y="169" width="3" height="39" fill="#000"/>
<rect x="524" y="170" width="1" height="37" fill="#00ff00"/>
<rect x="528" y="202" width="1" height="40" fill="#000"/>
<rect x="527" y="207" width="3" height="23" fill="#000"/>
<rect x="528" y="208" width="1" height="21" fill="#00ff00"/>
<rect x="532" y="213" width="1" height="19" fill="#000"/>
<rect x="531" y="225" width="3" height="5" fill="#000"/>
<rect x="532" y="226" width="1" height="3" fill="#ff0000"/>
<rect x="536" y="217" width="1" height="21" fill="#000"/>
<rect x="535" y="225" width="3" height="12" fill="#000"/>
<rect x="536" y="226" width="1" height="10" fill="#00ff00"/>
<rect x="540" y="229" width="1" height="25" fill="#000"/>
<rect x="539" y="236" width="3" height="4" fill="#000"/>
<rect x="540" y="237" width="1" height="2" fill="#00ff00"/>
<rect x="544" y="237" width="1" height="4" fill="#000"/>
<rect x="543" y="238" width="3" height="3" fill="#000"/>
<rect x="544" y="239" width="1" height="1" fill="#ff0000"/>
<rect x="548" y="229" width="1" height="21" fill="#000"/>
<rect x="547" y="238" width="3" height="1" fill="#000"/>
<rect x="552" y="222" width="1" height="22" fill="#000"/>
<rect x="551" y="232" width="3" height="6" fill="#000"/>
<rect x="552" y="233" width="1" height="4" fill="#ff0000"/>
<rect x="556" y="206" width="1" height="29" fill="#000"/>
<rect x="555" y="218" width="3" height="15" fill="#000"/>
<rect x="556" y="219" width="1" height="13" fill="#ff0000"/>
<rect x="560" y="216" width="1" height="28" fill="#000"/>
<rect x="559" y="218" width="3" height="23" fill="#000"/>
<rect x="560" y="219" width="1" height="21" fill="#00ff00"/>
<rect x="564" y="213" width="1" height="36" fill="#000"/>
<rect x="563" y="220" width="3" height="21" fill="#000"/>
<rect x="564" y="221" width="1" height="19" fill="#ff0000"/>
<rect x="568" y="220" width="1" height="2" fill="#000"/>
<rect x="567" y="221" width="3" height="1" fill="#000"/>
<rect x="572" y="182" width="1" height="45" fill="#000"/>
<rect x="571" y="184" width="3" height="38" fill="#000"/>
<rect x="572" y="185" width="1" height="36" fill="#ff0000"/>
<rect x="576" y="158" width="1" height="31" fill="#000"/>
<rect x="575" y="175" width="3" height="10" fill="#000"/>
<rect x="576" y="176" width="1" height="8" fill="#ff0000"/>
<rect x="580" y="153" width="1" height="25" fill="#000"/>
<rect x="579" y="154" width="3" height="23" fill="#000"/>
<rect x="580" y="155" width="1" height="21" fill="#ff0000"/>
<rect x="584" y="142" width="1" height="39" fill="#000"/>
<rect x="583" y="148" width="3" height="7" fill="#000"/>
<rect x="584" y="149" width="1" height="5" fill="#ff0000"/>
<rect x="588" y="110" width="1" height="54" fill="#000"/>
<rect x="587" y="117" width="3" height="31" fill="#000"/>
<rect x="588" y="118" width="1" height="29" fill="#ff0000"/>
<rect x="592" y="110" width="1" height="7" fill="#000"/>
<rect x="591" y="112" width="3" height="4" fill="#000"/>
<rect x="592" y="113" width="1" height="2" fill="#ff0000"/>
<rect x="596" y="71" width="1" height="46" fill="#000"/>
<rect x="595" y="82" width="3" height="31" fill="#000"/>
<rect x="596" y="83" width="1" height="29" fill="#ff0000"/>
<rect x="600" y="54" width="1" height="67" fill="#000"/>
<rect x="599" y="71" width="3" height="12" fill="#000"/>
<rect x="600" y="72" width="1" height="10" fill="#ff0000"/>
<rect x="604" y="48" width="1" height="49" fill="#000"/>
<rect x="603" y="71" width="3" height="21" fill="#000"/>
<rect x="604" y="72" width="1" height="19" fill="#00ff00"/>
<rect x="608" y="73" width="1" height="145" fill="#000"/>
<rect x="607" y="91" width="3" height="112" fill="#000"/>
<rect x="608" y="92" width="1" height="110" fill="#00ff00"/>
<rect x="612" y="177" width="1" height="46" fill="#000"/>
<rect x="611" y="188" width="3" height="16" fill="#000"/>
<rect x="612" y="189" width="1" height="14" fill="#ff0000"/>
<rect x="616" y="187" width="1" height="7" fill="#000"/>
<rect x="615" y="191" width="3" height="2" fill="#000"/>
<rect x="620" y="188" width="1" height="34" fill="#000"/>
<rect x="619" y="191" width="3" height="10" fill="#000"/>
<rect x="620" y="192" width="1" height="8" fill="#00ff00"/>
<rect x="624" y="196" width="1" height="22" fill="#000"/>
<rect x="623" y="200" width="3" height="6" fill="#000"/>
<rect x="624" y="201" width="1" height="4" fill="#00ff00"/>
<rect x="628" y="194" width="1" height="45" fill="#000"/>
<rect x="627" y="206" width="3" height="18" fill="#000"/>
<rect x="628" y="207" width="1" height="16" fill="#00ff00"/>
<rect x="632" y="199" width="1" height="45" fill="#000"/>
<rect x="631" y="223" width="3" height="3" fill="#000"/>
<rect x="632" y="224" width="1" height="1" fill="#00ff00"/>
<rect x="636" y="217" width="1" height="46" fill="#000"/>
<rect x="635" y="225" width="3" height="12" fill="#000"/>
<rect x="636" y="226" width="1" height="10" fill="#00ff00"/>
<rect x="640" y="240" width="1" height="6" fill="#000"/>
<rect x="639" y="241" width="3" height="4" fill="#000"/>
<rect x="640" y="242" width="1" height="2" fill="#ff0000"/>
<rect x="644" y="222" width="1" height="32" fill="#000"/>
<rect x="643" y="242" width="3" height="4" fill="#000"/>
<rect x="644" y="243" width="1" height="2" fill="#00ff00"/>
<rect x="648" y="235" width="1" height="23" fill="#000"/>
<rect x="647" y="243" width="3" height="3" fill="#000"/>
<rect x="648" y="244" width="1" height="1" fill="#ff0000"/>
<rect x="652" y="239" width="1" height="35" fill="#000"/>
<rect x="651" y="243" width="3" height="12" fill="#000"/>
<rect x="652" y="244" width="1" height="10" fill="#00ff00"/>
<rect x="656" y="229" width="1" height="31" fill="#000"/>
<rect x="655" y="250" width="3" height="5" fill="#000"/>
<rect x="656" y="251" width="1" height="3" fill="#ff0000"/>
<rect x="660" y="213" width="1" height="40" fill="#000"/>
<rect x="659" y="231" width="3" height="20" fill="#000"/>
<rect x="660" y="232" width="1" height="18" fill="#ff0000"/>
<rect x="664" y="233" width="1" height="4" fill="#000"/>
<rect x="663" y="235" width="3" height="2" fill="#000"/>
<rect x="668" y="223" width="1" height="24" fill="#000"/>
<rect x="667" y="226" width="3" height="11" fill="#000"/>
<rect x="668" y="227" width="1" height="9" fill="#ff0000"/>
<rect x="672" y="188" width="1" height="46" fill="#000"/>
<rect x="671" y="196" width="3" height="31" fill="#000"/>
<rect x="672" y="197" width="1" height="29" fill="#ff0000"/>
<rect x="676" y="184" width="1" height="18" fill="#000"/>
<rect x="675" y="189" width="3" height="8" fill="#000"/>
<rect x="676" y="190" width="1" height="6" fill="#ff0000"/>
<rect x="680" y="170" width="1" height="28" fill="#000"/>
<rect x="679" y="174" width="3" height="15" fill="#000"/>
<rect x="680" y="175" width="1" height="13" fill="#ff0000"/>
<rect x="684" y="150" width="1" height="31" fill="#000"/>
<rect x="683" y="160" width="3" height="16" fill="#000"/>
<rect x="684" y="161" width="1" height="14" fill="#ff0000"/>
<rect x="688" y="158" width="1" height="4" fill="#000"/>
<rect x="687" y="159" width="3" height="3" fill="#000"/>
<rect x="688" y="160" width="1" height="1" fill="#ff0000"/>
<rect x="692" y="132" width="1" height="28" fill="#000"/>
<rect x="691" y="138" width="3" height="21" fill="#000"/>
<rect x="692" y="139" width="1" height="19" fill="#ff0000"/>
<rect x="696" y="126" width="1" height="21" fill="#000"/>
<rect x="695" y="137" width="3" height="6" fill="#000"/>
<rect x="696" y="138" width="1" height="4" fill="#00ff00"/>
<rect x="700" y="137" width="1" height="31" fill="#000"/>
<rect x="699" y="142" width="3" height="5" fill="#000"/>
<rect x="700" y="143" width="1" height="3" fill="#00ff00"/>
<rect x="704" y="115" width="1" height="33" fill="#000"/>
<rect x="703" y="137" width="3" height="10" fill="#000"/>
<rect x="704" y="138" width="1" height="8" fill="#ff0000"/>
<rect x="708" y="133" width="1" height="31" fill="#000"/>
<rect x="707" y="138" width="3" height="19" fill="#000"/>
<rect x="708" y="139" width="1" height="17" fill="#00ff00"/>
<rect x="712" y="163" width="1" height="6" fill="#000"/>
<rect x="711" y="164" width="3" height="5" fill="#000"/>
<rect x="712" y="165" width="1" height="3" fill="#00ff00"/>
<rect x="716" y="154" width="1" height="24" fill="#000"/>
<rect x="715" y="159" width="3" height="10" fill="#000"/>
<rect x="716" y="160" width="1" height="8" fill="#ff0000"/>
<rect x="720" y="155" width="1" height="54" fill="#000"/>
<rect x="719" y="160" width="3" height="35" fill="#000"/>
<rect x="720" y="161" width="1" height="33" fill="#00ff00"/>
<rect x="724" y="175" width="1" height="25" fill="#000"/>
<rect x="723" y="184" width="3" height="11" fill="#000"/>
<rect x="724" y="185" width="1" height="9" fill="#ff0000"/>
<rect x="728" y="174" width="1" height="34" fill="#000"/>
<rect x="727" y="184" width="3" height="21" fill="#000"/>
<rect x="728" y="185" width="1" height="19" fill="#00ff00"/>
<rect x="732" y="188" width="1" height="43" fill="#000"/>
<rect x="731" y="204" width="3" height="12" fill="#000"/>
<rect x="732" y="205" width="1" height="10" fill="#00ff00"/>
<rect x="736" y="216" width="1" height="5" fill="#000"/>
<rect x="735" y="217" width="3" height="4" fill="#000"/>
<rect x="736" y="218" width="1" height="2" fill="#ff0000"/>
<rect x="740" y="206" width="1" height="18" fill="#000"/>
<rect x="739" y="213" width="3" height="5" fill="#000"/>
<rect x="740" y="214" width="1" height="3" fill="#ff0000"/>
<rect x="744" y="203" width="1" height="22" fill="#000"/>
<rect x="743" y="213" width="3" height="9" fill="#000"/>
<rect x="744" y="214" width="1" height="7" fill="#00ff00"/>
<rect x="748" y="206" width="1" height="32" fill="#000"/>
<rect x="747" y="221" width="3" height="17" fill="#000"/>
<rect x="748" y="222" width="1" height="15" fill="#00ff00"/>
<rect x="752" y="217" width="1" height="39" fill="#000"/>
<rect x="751" y="237" width="3" height="17" fill="#000"/>
<rect x="752" y="238" width="1" height="15" fill="#00ff00"/>
<rect x="756" y="233" width="1" height="38" fill="#000"/>
<rect x="755" y="253" width="3" height="11" fill="#000"/>
<rect x="756" y="254" width="1" height="9" fill="#00ff00"/>
<rect x="760" y="258" width="1" height="5" fill="#000"/>
<rect x="759" y="259" width="3" height="3" fill="#000"/>
<rect x="760" y="260" width="1" height="1" fill="#ff0000"/>
<rect x="764" y="259" width="1" height="20" fill="#000"/>
<rect x="763" y="260" width="3" height="11" fill="#000"/>
<rect x="764" y="261" width="1" height="9" fill="#00ff00"/>
<rect x="768" y="236" width="1" height="47" fill="#000"/>
<rect x="767" y="237" width="3" height="35" fill="#000"/>
<rect x="768" y="238" width="1" height="33" fill="#ff0000"/>
<rect x="772" y="209" width="1" height="46" fill="#000"/>
<rect x="771" y="225" width="3" height="13" fill="#000"/>
<rect x="772" y="226" width="1" height="11" fill="#ff0000"/>
<rect x="776" y="221" width="1" height="35" fill="#000"/>
<rect x="775" y="225" width="3" height="30" fill="#000"/>
<rect x="776" y="226" width="1" height="28" fill="#00ff00"/>
<rect x="780" y="210" width="1" height="46" fill="#000"/>
<rect x="779" y="222" width="3" height="34" fill="#000"/>
<rect x="780" y="223" width="1" height="32" fill="#ff0000"/>
<rect x="784" y="221" width="1" height="3" fill="#000"/>
<rect x="783" y="221" width="3" height="1" fill="#000"/>
<rect x="788" y="216" width="1" height="47" fill="#000"/>
<rect x="787" y="221" width="3" height="30" fill="#000"/>
<rect x="788" y="222" width="1" height="28" fill="#00ff00"/>
<rect x="792" y="248" width="1" height="19" fill="#000"/>
<rect x="791" y="250" width="3" height="5" fill="#000"/>
<rect x="792" y="251" width="1" height="3" fill="#00ff00"/>
<rect x="796" y="252" width="1" height="62" fill="#000"/>
<rect x="795" y="253" width="3" height="49" fill="#000"/>
<rect x="796" y="254" width="1" height="47" fill="#00ff00"/>
<rect x="800" y="292" width="1" height="32" fill="#000"/>
<rect x="799" y="301" width="3" height="5" fill="#000"/>
<rect x="800" y="302" width="1" height="3" fill="#00ff00"/>
<rect x="804" y="291" width="1" height="18" fill="#000"/>
<rect x="803" y="305" width="3" height="1" fill="#000"/>
<rect x="808" y="303" width="1" height="3" fill="#000"/>
<rect x="807" y="303" width="3" height="2" fill="#000"/>
<rect x="812" y="282" width="1" height="26" fill="#000"/>
<rect x="811" y="287" width="3" height="17" fill="#000"/>
<rect x="812" y="288" width="1" height="15" fill="#ff0000"/>
<rect x="816" y="265" width="1" height="25" fill="#000"/>
<rect x="815" y="273" width="3" height="15" fill="#000"/>
<rect x="816" y="274" width="1" height="13" fill="#ff0000"/>
<rect x="820" y="253" width="1" height="25" fill="#000"/>
<rect x="819" y="265" width="3" height="8" fill="#000"/>
<rect x="820" y="266" width="1" height="6" fill="#ff0000"/>
<rect x="824" y="242" width="1" height="30" fill="#000"/>
<rect x="823" y="243" width="3" height="23" fill="#000"/>
<rect x="824" y="244" width="1" height="21" fill="#ff0000"/>
<rect x="828" y="231" width="1" height="19" fill="#000"/>
<rect x="827" y="233" width="3" height="11" fill="#000"/>
<rect x="828" y="234" width="1" height="9" fill="#ff0000"/>
<rect x="832" y="233" width="1" height="5" fill="#000"/>
<rect x="831" y="235" width="3" height="1" fill="#000"/>
<rect x="836" y="206" width="1" height="36" fill="#000"/>
<rect x="835" y="212" width="3" height="24" fill="#000"/>
<rect x="836" y="213" width="1" height="22" fill="#ff0000"/>
<rect x="840" y="193" width="1" height="37" fill="#000"/>
<rect x="839" y="212" width="3" height="1" fill="#000"/>
<rect x="844" y="195" width="1" height="32" fill="#000"/>
<rect x="843" y="204" width="3" height="9" fill="#000"/>
<rect x="844" y="205" width="1" height="7" fill="#ff0000"/>
<rect x="848" y="202" width="1" height="24" fill="#000"/>
<rect x="847" y="204" width="3" height="12" fill="#000"/>
<rect x="848" y="205" width="1" height="10" fill="#00ff00"/>
<rect x="852" y="204" width="1" height="36" fill="#000"/>
<rect x="851" y="205" width="3" height="11" fill="#000"/>
<rect x="852" y="206" width="1" height="9" fill="#ff0000"/>
<rect x="856" y="195" width="1" height="6" fill="#000"/>
<rect x="855" y="195" width="3" height="6" fill="#000"/>
<rect x="856" y="196" width="1" height="4" fill="#ff0000"/>
<rect x="860" y="187" width="1" height="20" fill="#000"/>
<rect x="859" y="195" width="3" height="7" fill="#000"/>
<rect x="860" y="196" width="1" height="5" fill="#00ff00"/>
<rect x="864" y="165" width="1" height="40" fill="#000"/>
<rect x="863" y="173" width="3" height="29" fill="#000"/>
<rect x="864" y="174" width="1" height="27" fill="#ff0000"/>
<rect x="868" y="146" width="1" height="34" fill="#000"/>
<rect x="867" y="152" width="3" height="22" fill="#000"/>
<rect x="868" y="153" width="1" height="20" fill="#ff0000"/>
<rect x="872" y="125" width="1" height="48" fill="#000"/>
<rect x="871" y="146" width="3" height="7" fill="#000"/>
<rect x="872" y="147" width="1" height="5" fill="#ff0000"/>
<rect x="876" y="126" width="1" height="31" fill="#000"/>
<rect x="875" y="145" width="3" height="3" fill="#000"/>
<rect x="876" y="146" width="1" height="1" fill="#00ff00"/>
<rect x="880" y="136" width="1" height="5" fill="#000"/>
<rect x="879" y="136" width="3" height="5" fill="#000"/>
<rect x="880" y="137" width="1" height="3" fill="#ff0000"/>
<rect x="884" y="134" width="1" height="23" fill="#000"/>
<rect x="883" y="136" width="3" height="20" fill="#000"/>
<rect x="884" y="137" width="1" height="18" fill="#00ff00"/>
<rect x="888" y="125" width="1" height="39" fill="#000"/>
<rect x="887" y="131" width="3" height="25" fill="#000"/>
<rect x="888" y="132" width="1" height="23" fill="#ff0000"/>
<rect x="892" y="121" width="1" height="45" fill="#000"/>
<rect x="891" y="131" width="3" height="33" fill="#000"/>
<rect x="892" y="132" width="1" height="31" fill="#00ff00"/>
<rect x="896" y="157" width="1" height="39" fill="#000"/>
<rect x="895" y="163" width="3" height="33" fill="#000"/>
<rect x="896" y="164" width="1" height="31" fill="#00ff00"/>
<rect x="900" y="195" width="1" height="58" fill="#000"/>
<rect x="899" y="195" width="3" height="34" fill="#000"/>
<rect x="900" y="196" width="1" height="32" fill="#00ff00"/>
<rect x="904" y="227" width="1" height="7" fill="#000"/>
<rect x="903" y="227" width="3" height="5" fill="#000"/>
<rect x="904" y="228" width="1" height="3" fill="#00ff00"/>
<rect x="908" y="230" width="1" height="38" fill="#000"/>
<rect x="907" y="231" width="3" height="28" fill="#000"/>
<rect x="908" y="232" width="1" height="26" fill="#00ff00"/>
<rect x="912" y="217" width="1" height="63" fill="#000"/>
<rect x="911" y="229" width="3" height="30" fill="#000"/>
<rect x="912" y="230" width="1" height="28" fill="#ff0000"/>
<rect x="916" y="215" width="1" height="21" fill="#000"/>
<rect x="915" y="222" width="3" height="6" fill="#000"/>
<rect x="916" y="223" width="1" height="4" fill="#ff0000"/>
<rect x="920" y="213" width="1" height="36" fill="#000"/>
<rect x="919" y="222" width="3" height="1" fill="#000"/>
<rect x="924" y="205" width="1" height="26" fill="#000"/>
<rect x="923" y="210" width="3" height="14" fill="#000"/>
<rect x="924" y="211" width="1" height="12" fill="#ff0000"/>
<rect x="4" y="65" width="1163" height="2" fill="#ff0000"/>
<rect x="4" y="147" width="1163" height="2" fill="#ff0000"/>
<rect x="4" y="227" width="1163" height="2" fill="#00ff00"/>
<rect x="4" y="309" width="1163" height="2" fill="#0000ff"/>
<rect x="4" y="391" width="1163" height="2" fill="#0000ff"/>
<rect x="4" y="478" width="2" height="1" fill="#00ff00"/>
<rect x="7" y="478" width="3" height="1" fill="#00ff00"/>
<rect x="11" y="478" width="3" height="3" fill="#00ff00"/>
<rect x="15" y="478" width="3" height="3" fill="#00ff00"/>
<rect x="19" y="478" width="3" height="3" fill="#00ff00"/>
<rect x="23" y="478" width="3" height="3" fill="#00ff00"/>
<rect x="27" y="478" width="3" height="4" fill="#00ff00"/>
<rect x="31" y="478" width="3" height="5" fill="#00ff00"/>
<rect x="35" y="478" width="3" height="5" fill="#00ff00"/>
<rect x="39" y="478" width="3" height="5" fill="#00ff00"/>
<rect x="43" y="478" width="3" height="4" fill="#00ff00"/>
<rect x="47" y="478" width="3" height="3" fill="#00ff00"/>
<rect x="51" y="478" width="3" height="3" fill="#00ff00"/>
<rect x="55" y="478" width="3" height="3" fill="#00ff00"/>
<rect x="59" y="478" width="3" height="3" fill="#00ff00"/>
<rect x="63" y="478" width="3" height="3" fill="#00ff00"/>
<rect x="67" y="478" width="3" height="1" fill="#00ff00"/>
<rect x="71" y="478" width="3" height="1" fill="#00ff00"/>
<rect x="75" y="478" width="3" height="1" fill="#00ff00"/>
<rect x="79" y="478" width="3" height="2" fill="#00ff00"/>
<rect x="83" y="478" width="3" height="2" fill="#00ff00"/>
<rect x="87" y="478" width="3" height="2" fill="#00ff00"/>
<rect x="91" y="478" width="3" height="4" fill="#00ff00"/>
<rect x="95" y="478" width="3" height="2" fill="#00ff00"/>
<rect x="99" y="478" width="3" height="2" fill="#00ff00"/>
<rect x="103" y="478" width="3" height="2" fill="#00ff00"/>
<rect x="107" y="478" width="3" height="4" fill="#00ff00"/>
<rect x="111" y="478" width="3" height="2" fill="#00ff00"/>
<rect x="115" y="478" width="3" height="2" fill="#00ff00"/>
<rect x="119" y="478" width="3" height="2" fill="#00ff00"/>
<rect x="123" y="478" width="3" height="1" fill="#00ff00"/>
<rect x="127" y="477" width="3" height="1" fill="#00ff00"/>
<rect x="131" y="476" width="3" height="2" fill="#00ff00"/>
<rect x="135" y="474" width="3" height="4" fill="#00ff00"/>
<rect x="139" y="473" width="3" height="5" fill="#00ff00"/>
<rect x="143" y="474" width="3" height="4" fill="#00ff00"/>
<rect x="147" y="476" width="3" height="2" fill="#00ff00"/>
<rect x="151" y="476" width="3" height="2" fill="#00ff00"/>
<rect x="155" y="476" width="3" height="2" fill="#00ff00"/>
<rect x="159" y="476" width="3" height="2" fill="#00ff00"/>
<rect x="163" y="476" width="3" height="2" fill="#00ff00"/>
<rect x="167" y="476" width="3" height="2" fill="#00ff00"/>
<rect x="171" y="476" width="3" height="2" fill="#00ff00"/>
<rect x="175" y="476" width="3" height="2" fill="#00ff00"/>
<rect x="179" y="476" width="3" height="2" fill="#00ff00"/>
<rect x="183" y="476" width="3" height="2" fill="#00ff00"/>
<rect x="187" y="476" width="3" height="2" fill="#00ff00"/>
<rect x="191" y="476" width="3" height="2" fill="#00ff00"/>
<rect x="195" y="476" width="3" height="2" fill="#00ff00"/>
<rect x="199" y="476" width="3" height="2" fill="#00ff00"/>
<rect x="203" y="478" width="3" height="1" fill="#00ff00"/>
<rect x="207" y="478" width="3" height="1" fill="#00ff00"/>
<rect x="211" y="478" width="3" height="2" fill="#00ff00"/>
<rect x="215" y="478" width="3" height="2" fill="#00ff00"/>
<rect x="219" y="478" width="3" height="2" fill="#00ff00"/>
<rect x="223" y="478" width="3" height="1" fill="#00ff00"/>
<rect x="227" y="478" width="3" height="1" fill="#00ff00"/>
<rect x="231" y="478" width="3" height="1" fill="#00ff00"/>
<rect x="235" y="478" width="3" height="1" fill="#00ff00"/>
<rect x="239" y="478" width="3" height="2" fill="#00ff00"/>
<rect x="243" y="478" width="3" height="2" fill="#00ff00"/>
<rect x="247" y="478" width="3" height="2" fill="#00ff00"/>
<rect x="251" y="478" width="3" height="2" fill="#00ff00"/>
<rect x="255" y="478" width="3" height="1" fill="#00ff00"/>
<rect x="259" y="478" width="3" height="1" fill="#00ff00"/>
<rect x="263" y="477" width="3" height="1" fill="#00ff00"/>
<rect x="267" y="476" width="3" height="2" fill="#00ff00"/>
<rect x="271" y="476" width="3" height="2" fill="#00ff00"/>
<rect x="275" y="475" width="3" height="3" fill="#00ff00"/>
<rect x="279" y="474" width="3" height="4" fill="#00ff00"/>
<rect x="283" y="472" width="3" height="6" fill="#00ff00"/>
<rect x="287" y="471" width="3" height="7" fill="#00ff00"/>
<rect x="291" y="470" width="3" height="8" fill="#00ff00"/>
<rect x="295" y="470" width="3" height="8" fill="#00ff00"/>
<rect x="299" y="471" width="3" height="7" fill="#00ff00"/>
<rect x="303" y="472" width="3" height="6" fill="#00ff00"/>
<rect x="307" y="472" width="3" height="6" fill="#00ff00"/>
<rect x="311" y="473" width="3" height="5" fill="#00ff00"/>
<rect x="315" y="473" width="3" height="5" fill="#00ff00"/>
<rect x="319" y="474" width="3" height="4" fill="#00ff00"/>
<rect x="323" y="474" width="3" height="4" fill="#00ff00"/>
<rect x="327" y="475" width="3" height="3" fill="#00ff00"/>
<rect x="331" y="475" width="3" height="3" fill="#00ff00"/>
<rect x="335" y="475" width="3" height="3" fill="#00ff00"/>
<rect x="339" y="477" width="3" height="1" fill="#00ff00"/>
<rect x="343" y="478" width="3" height="1" fill="#00ff00"/>
<rect x="347" y="478" width="3" height="1" fill="#00ff00"/>
<rect x="351" y="478" width="3" height="2" fill="#00ff00"/>
<rect x="355" y="478" width="3" height="2" fill="#00ff00"/>
<rect x="359" y="478" width="3" height="2" fill="#00ff00"/>
<rect x="363" y="478" width="3" height="1" fill="#00ff00"/>
<rect x="367" y="478" width="3" height="1" fill="#00ff00"/>
<rect x="371" y="478" width="3" height="1" fill="#00ff00"/>
<rect x="375" y="476" width="3" height="2" fill="#00ff00"/>
<rect x="379" y="476" width="3" height="2" fill="#00ff00"/>
<rect x="383" y="476" width="3" height="2" fill="#00ff00"/>
<rect x="387" y="476" width="3" height="2" fill="#00ff00"/>
<rect x="391" y="475" width="3" height="3" fill="#00ff00"/>
<rect x="395" y="473" width="3" height="5" fill="#00ff00"/>
<rect x="399" y="473" width="3" height="5" fill="#00ff00"/>
<rect x="403" y="472" width="3" height="6" fill="#00ff00"/>
<rect x="407" y="470" width="3" height="8" fill="#00ff00"/>
<rect x="411" y="469" width="3" height="9" fill="#00ff00"/>
<rect x="415" y="468" width="3" height="10" fill="#00ff00"/>
<rect x="419" y="467" width="3" height="11" fill="#00ff00"/>
<rect x="423" y="466" width="3" height="12" fill="#00ff00"/>
<rect x="427" y="465" width="3" height="13" fill="#00ff00"/>
<rect x="431" y="464" width="3" height="14" fill="#00ff00"/>
<rect x="435" y="463" width="3" height="15" fill="#00ff00"/>
<rect x="439" y="461" width="3" height="17" fill="#00ff00"/>
<rect x="443" y="460" width="3" height="18" fill="#00ff00"/>
<rect x="447" y="459" width="3" height="19" fill="#00ff00"/>
<rect x="451" y="458" width="3" height="20" fill="#00ff00"/>
<rect x="455" y="458" width="3" height="20" fill="#00ff00"/>
<rect x="459" y="458" width="3" height="20" fill="#00ff00"/>
<rect x="463" y="457" width="3" height="21" fill="#00ff00"/>
<rect x="467" y="456" width="3" height="22" fill="#00ff00"/>
<rect x="471" y="455" width="3" height="23" fill="#00ff00"/>
<rect x="475" y="454" width="3" height="24" fill="#00ff00"/>
<rect x="479" y="453" width="3" height="25" fill="#00ff00"/>
<rect x="483" y="453" width="3" height="25" fill="#00ff00"/>
<rect x="487" y="452" width="3" height="26" fill="#00ff00"/>
<rect x="491" y="451" width="3" height="27" fill="#00ff00"/>
<rect x="495" y="451" width="3" height="27" fill="#00ff00"/>
<rect x="499" y="452" width="3" height="26" fill="#00ff00"/>
<rect x="503" y="454" width="3" height="24" fill="#00ff00"/>
<rect x="507" y="456" width="3" height="22" fill="#00ff00"/>
<rect x="511" y="461" width="3" height="17" fill="#00ff00"/>
<rect x="515" y="464" width="3" height="14" fill="#00ff00"/>
<rect x="519" y="467" width="3" height="11" fill="#00ff00"/>
<rect x="523" y="470" width="3" height="8" fill="#00ff00"/>
<rect x="527" y="474" width="3" height="4" fill="#00ff00"/>
<rect x="531" y="477" width="3" height="1" fill="#00ff00"/>
<rect x="535" y="478" width="3" height="1" fill="#00ff00"/>
<rect x="539" y="478" width="3" height="4" fill="#00ff00"/>
<rect x="543" y="478" width="3" height="6" fill="#00ff00"/>
<rect x="547" y="478" width="3" height="7" fill="#00ff00"/>
<rect x="551" y="478" width="3" height="8" fill="#00ff00"/>
<rect x="555" y="478" width="3" height="8" fill="#00ff00"/>
<rect x="559" y="478" width="3" height="9" fill="#00ff00"/>
<rect x="563" y="478" width="3" height="9" fill="#00ff00"/>
<rect x="567" y="478" width="3" height="8" fill="#00ff00"/>
<rect x="571" y="478" width="3" height="7" fill="#00ff00"/>
<rect x="575" y="478" width="3" height="5" fill="#00ff00"/>
<rect x="579" y="478" width="3" height="3" fill="#00ff00"/>
<rect x="583" y="478" width="3" height="1" fill="#00ff00"/>
<rect x="587" y="475" width="3" height="3" fill="#00ff00"/>
<rect x="591" y="473" width="3" height="5" fill="#00ff00"/>
<rect x="595" y="470" width="3" height="8" fill="#00ff00"/>
<rect x="599" y="468" width="3" height="10" fill="#00ff00"/>
<rect x="603" y="467" width="3" height="11" fill="#00ff00"/>
<rect x="607" y="470" width="3" height="8" fill="#00ff00"/>
<rect x="611" y="473" width="3" height="5" fill="#00ff00"/>
<rect x="615" y="474" width="3" height="4" fill="#00ff00"/>
<rect x="619" y="476" width="3" height="2" fill="#00ff00"/>
<rect x="623" y="478" width="3" height="1" fill="#00ff00"/>
<rect x="627" y="478" width="3" height="2" fill="#00ff00"/>
<rect x="631" y="478" width="3" height="4" fill="#00ff00"/>
<rect x="635" y="478" width="3" height="5" fill="#00ff00"/>
<rect x="639" y="478" width="3" height="6" fill="#00ff00"/>
<rect x="643" y="478" width="3" height="8" fill="#00ff00"/>
<rect x="647" y="478" width="3" height="9" fill="#00ff00"/>
<rect x="651" y="478" width="3" height="10" fill="#00ff00"/>
<rect x="655" y="478" width="3" height="10" fill="#00ff00"/>
<rect x="659" y="478" width="3" height="9" fill="#00ff00"/>
<rect x="663" y="478" width="3" height="10" fill="#00ff00"/>
<rect x="667" y="478" width="3" height="8" fill="#00ff00"/>
<rect x="671" y="478" width="3" height="7" fill="#00ff00"/>
<rect x="675" y="478" width="3" height="6" fill="#00ff00"/>
<rect x="679" y="478" width="3" height="4" fill="#00ff00"/>
<rect x="683" y="478" width="3" height="2" fill="#00ff00"/>
<rect x="687" y="477" width="3" height="1" fill="#00ff00"/>
<rect x="691" y="475" width="3" height="3" fill="#00ff00"/>
<rect x="695" y="474" width="3" height="4" fill="#00ff00"/>
<rect x="699" y="473" width="3" height="5" fill="#00ff00"/>
<rect x="703" y="472" width="3" height="6" fill="#00ff00"/>
<rect x="707" y="472" width="3" height="6" fill="#00ff00"/>
<rect x="711" y="472" width="3" height="6" fill="#00ff00"/>
<rect x="715" y="473" width="3" height="5" fill="#00ff00"/>
<rect x="719" y="474" width="3" height="4" fill="#00ff00"/>
<rect x="723" y="475" width="3" height="3" fill="#00ff00"/>
<rect x="727" y="476" width="3" height="2" fill="#00ff00"/>
<rect x="731" y="478" width="3" height="1" fill="#00ff00"/>
<rect x="735" y="478" width="3" height="2" fill="#00ff00"/>
<rect x="739" y="478" width="3" height="3" fill="#00ff00"/>
<rect x="743" y="478" width="3" height="4" fill="#00ff00"/>
<rect x="747" y="478" width="3" height="5" fill="#00ff00"/>
<rect x="751" y="478" width="3" height="6" fill="#00ff00"/>
<rect x="755" y="478" width="3" height="8" fill="#00ff00"/>
<rect x="759" y="478" width="3" height="9" fill="#00ff00"/>
<rect x="763" y="478" width="3" height="10" fill="#00ff00"/>
<rect x="767" y="478" width="3" height="10" fill="#00ff00"/>
<rect x="771" y="478" width="3" height="9" fill="#00ff00"/>
<rect x="775" y="478" width="3" height="8" fill="#00ff00"/>
<rect x="779" y="478" width="3" height="9" fill="#00ff00"/>
<rect x="783" y="478" width="3" height="9" fill="#00ff00"/>
<rect x="787" y="478" width="3" height="9" fill="#00ff00"/>
<rect x="791" y="478" width="3" height="9" fill="#00ff00"/>
<rect x="795" y="478" width="3" height="9" fill="#00ff00"/>
<rect x="799" y="478" width="3" height="11" fill="#00ff00"/>
<rect x="803" y="478" width="3" height="11" fill="#00ff00"/>
<rect x="807" y="478" width="3" height="13" fill="#00ff00"/>
<rect x="811" y="478" width="3" height="11" fill="#00ff00"/>
<rect x="815" y="478" width="3" height="11" fill="#00ff00"/>
<rect x="819" y="478" width="3" height="11" fill="#00ff00"/>
<rect x="823" y="478" width="3" height="10" fill="#00ff00"/>
<rect x="827" y="478" width="3" height="7" fill="#00ff00"/>
<rect x="831" y="478" width="3" height="5" fill="#00ff00"/>
<rect x="835" y="478" width="3" height="4" fill="#00ff00"/>
<rect x="839" y="478" width="3" height="2" fill="#00ff00"/>
<rect x="843" y="478" width="3" height="1" fill="#00ff00"/>
<rect x="847" y="477" width="3" height="1" fill="#00ff00"/>
<rect x="851" y="476" width="3" height="2" fill="#00ff00"/>
<rect x="855" y="475" width="3" height="3" fill="#00ff00"/>
<rect x="859" y="474" width="3" height="4" fill="#00ff00"/>
<rect x="863" y="473" width="3" height="5" fill="#00ff00"/>
<rect x="867" y="471" width="3" height="7" fill="#00ff00"/>
<rect x="871" y="469" width="3" height="9" fill="#00ff00"/>
<rect x="875" y="468" width="3" height="10" fill="#00ff00"/>
<rect x="879" y="467" width="3" height="11" fill="#00ff00"/>
<rect x="883" y="467" width="3" height="11" fill="#00ff00"/>
<rect x="887" y="466" width="3" height="12" fill="#00ff00"/>
<rect x="891" y="467" width="3" height="11" fill="#00ff00"/>
<rect x="895" y="469" width="3" height="9" fill="#00ff00"/>
<rect x="899" y="471" width="3" height="7" fill="#00ff00"/>
<rect x="903" y="474" width="3" height="4" fill="#00ff00"/>
<rect x="907" y="477" width="3" height="1" fill="#00ff00"/>
<rect x="911" y="478" width="3" height="1" fill="#00ff00"/>
<rect x="915" y="478" width="3" height="1" fill="#00ff00"/>
<rect x="919" y="478" width="3" height="2" fill="#00ff00"/>
<rect x="923" y="478" width="3" height="2" fill="#00ff00"/>
<polyline points="4.0,479.0 4.5,479.0 24.0,479.0 25.0,480.0 36.0,480.0 37.0,481.0 48.0,481.0 49.0,482.0 65.0,482.0 66.0,481.0 77.0,481.0 78.0,480.0 112.0,480.0 113.0,480.8 124.0,480.8 125.0,480.0 133.0,480.0 134.0,479.0 141.0,479.0 142.0,478.0 145.0,478.0 146.0,477.0 149.0,477.0 150.0,476.0 157.0,476.0 158.0,475.0 201.0,475.0 202.0,476.0 213.0,476.0 214.0,477.0 221.0,477.0 222.0,478.2 252.0,478.2 253.0,479.0 268.0,479.0 269.0,477.8 280.0,477.6 281.0,476.5 290.0,476.3 291.0,474.2 300.0,474.0 301.0,473.2 306.0,473.2 307.0,472.0 313.0,472.0 314.0,470.9 321.0,470.9 322.0,472.0 329.0,472.0 330.0,473.2 337.0,473.2 338.0,474.2 341.0,474.2 342.0,475.0 349.0,475.0 350.0,476.2 353.0,476.2 354.0,477.0 364.0,477.2 365.0,478.2 388.0,478.2 389.0,477.0 396.0,477.0 397.0,475.8 405.0,475.8 406.0,474.5 413.0,474.3 420.0,472.9 426.0,471.2 430.0,469.5 438.0,467.0 446.0,464.6 454.5,462.4 463.0,460.4 471.0,458.3 479.5,456.6 487.5,455.5 496.0,454.1 504.5,453.3 509.0,453.8 517.5,455.5 524.0,458.3 529.0,461.6 537.5,467.6 545.5,473.7 550.5,477.8 557.5,480.8 564.0,483.3 567.0,483.6 584.0,483.6 588.0,482.8 591.5,481.6 595.0,480.3 598.0,478.7 601.5,477.0 605.0,475.8 609.0,474.2 613.0,473.2 617.0,472.0 624.0,472.0 628.0,473.2 633.0,474.5 638.0,477.0 643.0,479.0 648.0,480.6 653.0,482.5 658.0,484.5 663.0,485.3 666.0,486.1 681.0,486.1 686.0,484.8 691.0,483.3 696.0,481.6 701.0,479.5 706.0,477.5 711.0,475.8 716.0,474.5 719.0,474.0 725.0,474.0 726.5,472.9 729.0,472.9 732.5,474.2 739.0,474.5 744.0,475.8 749.0,477.3 754.0,479.2 759.0,480.6 764.0,482.0 769.0,483.3 776.5,484.8 783.0,484.8 785.0,486.1 818.0,486.1 820.0,487.8 832.0,487.8 834.5,487.0 839.5,485.8 844.5,484.5 849.5,483.1 853.0,481.6 858.0,480.0 863.0,478.2 868.0,477.0 873.0,475.3 877.5,473.2 882.5,472.0 887.5,470.7 892.5,469.2 897.5,467.9 900.0,467.9 902.5,468.7 908.0,468.7 912.5,471.2 917.5,472.5 921.5,473.7 924.5,474.8" fill="none" stroke="#ff0000" stroke-width="2" stroke-linejoin="round"/>
<polyline points="4.0,521.2 4.5,521.2 16.0,521.2 17.0,522.0 25.0,522.0 27.0,523.8 32.0,523.8 35.0,526.2 40.0,526.2 44.0,520.0 46.0,520.9 52.0,520.9 56.0,516.7 60.0,518.9 64.0,518.9 68.0,513.7 70.5,513.7 73.0,516.2 79.0,523.0 81.0,523.0 85.0,521.2 93.0,521.2 95.0,520.4 104.0,520.4 108.5,522.2 111.0,522.2 116.0,520.9 120.0,519.2 126.0,513.4 130.0,510.9 136.0,510.9 140.0,514.2 145.0,518.9 152.5,518.9 157.5,515.9 160.0,515.9 162.0,517.0 175.5,517.0 179.0,515.9 181.5,516.7 193.0,516.7 198.0,521.2 204.0,521.2 206.5,520.0 212.5,523.0 216.5,520.0 220.5,521.2 225.0,515.9 233.0,515.9 236.5,521.2 241.5,521.2 244.0,520.0 248.0,521.2 252.0,521.2 256.0,520.0 263.0,515.0 266.0,515.0 268.0,515.9 272.0,515.9 278.0,512.0 284.5,512.0 288.0,510.4 292.0,510.4 299.0,517.0 302.5,517.0 306.0,515.9 312.5,515.9 317.5,518.9 324.0,518.9 329.0,517.0 336.0,517.0 340.0,523.0 346.0,523.0 350.0,521.2 355.5,521.2 360.5,518.4 365.5,515.0 375.5,515.0 379.0,517.0 384.0,517.0 388.5,515.9 393.5,510.1 396.5,510.9 405.0,510.9 408.0,507.9 413.0,510.1 417.0,507.9 428.0,507.9 432.0,506.8 438.0,503.8 453.0,503.8 455.5,502.6 461.0,508.4 465.0,505.1 470.0,503.8 487.5,503.8 491.0,502.6 494.0,503.8 500.0,503.8 504.0,510.6 509.0,515.0 512.5,521.2 516.0,520.0 520.0,520.0 526.5,524.7 529.0,525.0 551.5,525.0 555.5,522.8 560.0,523.8 566.5,520.9 569.0,520.9 573.0,516.7 576.5,516.7 580.0,514.7 581.5,513.9 585.0,513.4 589.0,511.2 592.5,510.6 597.5,507.9 600.0,507.9 604.0,510.9 605.5,515.6 608.0,522.0 611.5,520.9 619.5,520.9 625.5,522.5 631.5,522.5 634.0,523.7 639.5,523.7 642.0,525.0 656.0,525.0 661.0,521.7 668.0,521.7 672.5,517.0 679.5,515.6 686.0,512.9 692.0,511.7 696.0,511.7 698.5,512.9 705.0,512.9 711.0,516.7 716.5,516.7 720.0,520.0 726.0,520.0 731.5,522.8 743.0,522.8 750.5,526.2 754.0,527.0 764.5,527.0 768.5,521.2 772.5,521.2 776.5,523.0 780.5,518.9 784.0,518.9 788.0,521.7 792.5,521.7 796.5,526.2 809.5,526.2 816.5,520.9 821.5,520.9 825.5,517.9 828.0,517.9 831.0,516.7 833.5,516.7 838.0,513.7 845.5,513.7 848.0,514.7 851.0,514.7 853.5,513.7 861.0,513.7 866.0,510.6 870.0,508.8 881.0,508.8 884.5,512.0 888.5,510.9 892.5,515.9 899.0,521.4 903.5,522.0 908.5,523.8 913.5,520.9 916.5,520.9 919.0,520.0 924.5,520.0" fill="none" stroke="#1e90ff" stroke-width="2" stroke-linejoin="round"/>
<g shape-rendering="geometricPrecision">
<polygon points="6.5,28 14.5,28 10.5,32.5" fill="#000"/>
<polygon points="927.5,22 937.5,22 932.5,27" fill="#000"/>
<polygon points="940,233.4 966.9,194.3 964.6,191.7 980.2,183.9 976,201.5 973.4,198.9" fill="#fc3a3a"/>
<polygon points="1181.8,574 1185,570.8 1185,577.2" fill="#8c8c8c"/><polygon points="1204.2,574 1201,570.8 1201,577.2" fill="#808080"/>
</g>
</svg>
<div class="t tb" id="t0" style="left:0.8px;top:2px;transform:scaleX(0.7730)">5</div>
<div class="t tb" id="t1" style="left:16px;top:2px;transform:scaleX(0.8790)">M30</div>
<div class="t tb" id="t2" style="left:46.9px;top:2px;transform:scaleX(0.8518)">H1</div>
<div class="t tb" id="t3" style="left:73.7px;top:2px;transform:scaleX(0.9690)">H4</div>
<div class="t tb" id="t4" style="left:102.7px;top:2px;transform:scaleX(0.8752)">D1</div>
<div class="t tb" id="t5" style="left:130.2px;top:2px;transform:scaleX(0.9267)">W1</div>
<div class="t tb" id="t6" style="left:156.9px;top:2px;transform:scaleX(0.9317)">MN</div>
<div class="t s" id="t7" style="left:19.4px;top:26px;transform:scaleX(0.9543)">USDCHF-,Daily</div>
<div class="t s" id="t8" style="left:92.8px;top:26px;transform:scaleX(0.9233)">0.96178 0.96601 0.95991 0.96493</div>
<div class="t s" id="t9" style="left:1172.4px;top:44px;transform:scaleX(0.8961)">1.00520</div>
<div class="t s" id="t10" style="left:1172.4px;top:77px;transform:scaleX(0.8961)">0.99700</div>
<div class="t s" id="t11" style="left:1172.4px;top:110px;transform:scaleX(0.8961)">0.98880</div>
<div class="t s" id="t12" style="left:1172.4px;top:176px;transform:scaleX(0.8961)">0.97260</div>
<div class="t s" id="t13" style="left:1172.4px;top:242px;transform:scaleX(0.8961)">0.95620</div>
<div class="t s" id="t14" style="left:1172.4px;top:275px;transform:scaleX(0.8961)">0.94800</div>
<div class="t s" id="t15" style="left:1172.4px;top:341px;transform:scaleX(0.8961)">0.93160</div>
<div class="t s" id="t16" style="left:1172.4px;top:407px;transform:scaleX(0.8961)">0.91540</div>
<div class="t s" id="t17" style="left:1172.4px;top:440px;transform:scaleX(0.8961)">0.90720</div>
<div class="t s" id="t18" style="left:1172.4px;top:62px;transform:scaleX(0.8961);color:#fff">1.00043</div>
<div class="t s" id="t19" style="left:1172.4px;top:144px;transform:scaleX(0.8961);color:#fff">0.98019</div>
<div class="t s" id="t20" style="left:1172.4px;top:207px;transform:scaleX(0.8961);color:#fff">0.96493</div>
<div class="t s" id="t21" style="left:1172.4px;top:224px;transform:scaleX(0.8961);color:#fff">0.96043</div>
<div class="t s" id="t22" style="left:1172.4px;top:306px;transform:scaleX(0.8961);color:#fff">0.94018</div>
<div class="t s" id="t23" style="left:1172.4px;top:388px;transform:scaleX(0.8961);color:#fff">0.91993</div>
<div class="t s" id="t24" style="left:8.4px;top:454px;transform:scaleX(0.9400)">MACD(12,26,9)</div>
<div class="t s" id="t25" style="left:77.2px;top:454px;transform:scaleX(0.9057)">-0.000404</div>
<div class="t s" id="t26" style="left:121.1px;top:454px;transform:scaleX(0.9085)">0.001988</div>
<div class="t s" id="t27" style="left:8.6px;top:500px;transform:scaleX(0.9056)">RSI(14)</div>
<div class="t s" id="t28" style="left:43.4px;top:500px;transform:scaleX(0.8989)">49.4399</div>
<div class="t s" id="t29" style="left:1170.2px;top:452px;transform:scaleX(0.8970)">0.015654</div>
<div class="t s" id="t30" style="left:1170.2px;top:475px;transform:scaleX(0.8970)">0.00</div>
<div class="t s" id="t31" style="left:1170.2px;top:482px;transform:scaleX(0.8970)">-0.007259</div>
<div class="t s" id="t32" style="left:1170.2px;top:498px;transform:scaleX(0.8970)">100</div>
<div class="t s" id="t33" style="left:1170.2px;top:506px;transform:scaleX(0.8970)">70</div>
<div class="t s" id="t34" style="left:1170.2px;top:525px;transform:scaleX(0.8970)">30</div>
<div class="t s" id="t35" style="left:1170.2px;top:532px;transform:scaleX(0.8970)">0</div>
<div class="t s" id="t36" style="left:3.2px;top:548px;transform:scaleX(0.8939)">22 Dec 2021</div>
<div class="t s" id="t37" style="left:67.2px;top:548px;transform:scaleX(0.8970)">10 Jan 2022</div>
<div class="t s" id="t38" style="left:131.2px;top:548px;transform:scaleX(0.8970)">28 Jan 2022</div>
<div class="t s" id="t39" style="left:195.2px;top:548px;transform:scaleX(0.8970)">16 Feb 2022</div>
<div class="t s" id="t40" style="left:259.2px;top:548px;transform:scaleX(0.8970)">7 Mar 2022</div>
<div class="t s" id="t41" style="left:323.2px;top:548px;transform:scaleX(0.8970)">25 Mar 2022</div>
<div class="t s" id="t42" style="left:387.2px;top:548px;transform:scaleX(0.8970)">13 Apr 2022</div>
<div class="t s" id="t43" style="left:451.2px;top:548px;transform:scaleX(0.8970)">2 May 2022</div>
<div class="t s" id="t44" style="left:515.2px;top:548px;transform:scaleX(0.8970)">20 May 2022</div>
<div class="t s" id="t45" style="left:579.2px;top:548px;transform:scaleX(0.8970)">8 Jun 2022</div>
<div class="t s" id="t46" style="left:643.2px;top:548px;transform:scaleX(0.8970)">27 Jun 2022</div>
<div class="t s" id="t47" style="left:707.2px;top:548px;transform:scaleX(0.8970)">15 Jul 2022</div>
<div class="t s" id="t48" style="left:771.2px;top:548px;transform:scaleX(0.8970)">3 Aug 2022</div>
<div class="t s" id="t49" style="left:835.2px;top:548px;transform:scaleX(0.8970)">22 Aug 2022</div>
<div class="t s" id="t50" style="left:899.2px;top:548px;transform:scaleX(0.8970)">9 Sep 2022</div>
<div class="t tab" id="t51" style="left:16.4px;top:569.5px;transform:scaleX(1.0225)">USDX,Weekly</div>
<div class="t tab" id="t52" style="left:116.3px;top:569.5px;transform:scaleX(0.9942)">EURUSD-,Daily</div>
<div class="t tab" id="t53" style="left:223.5px;top:569.5px;transform:scaleX(1.0131)">AUDUSD-,Daily</div>
<div class="t tab" id="t54" style="left:333.6px;top:569.5px;transform:scaleX(0.9893);color:#000">USDCHF-,Daily</div>
<div class="t tab" id="t55" style="left:440.4px;top:569.5px;transform:scaleX(1.0120)">USDCAD-,Daily</div>
<div class="t tab" id="t56" style="left:549.3px;top:569.5px;transform:scaleX(1.0194)">USDCNH-,Daily</div>
<div class="t tab" id="t57" style="left:659.4px;top:569.5px;transform:scaleX(1.0230)">HK50-,H1</div>
<div class="t tab" id="t58" style="left:735.4px;top:569.5px;transform:scaleX(0.9715)">EURCHF-,H1</div>
<div class="t tab" id="t59" style="left:829.7px;top:569.5px;transform:scaleX(1.0315)">USOil-,Daily</div>
<div class="t tab" id="t60" style="left:920.4px;top:569.5px;transform:scaleX(1.0349)">UKOil-,H4</div>
<div class="t tab" id="t61" style="left:1000px;top:569.5px;transform:scaleX(1.0224)">XAUUSD-,Daily</div>
</body></html>
